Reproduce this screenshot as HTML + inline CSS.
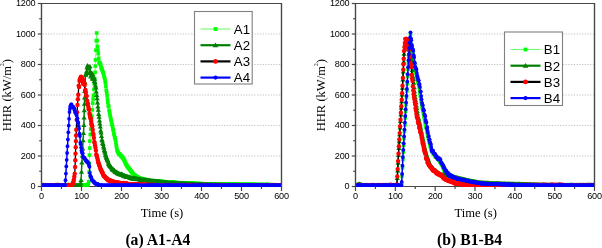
<!DOCTYPE html><html><head><meta charset="utf-8"><style>html,body{margin:0;padding:0;background:#fff;overflow:hidden;}svg{display:block;will-change:transform;}</style></head><body>
<svg width="602" height="248" viewBox="0 0 602 248">
<defs>
<marker id="msq" markerUnits="userSpaceOnUse" markerWidth="6" markerHeight="6" refX="3" refY="3" overflow="visible"><rect x="1.2" y="1.2" width="3.6" height="3.6" fill="#00ff00"/></marker>
<marker id="mtri" markerUnits="userSpaceOnUse" markerWidth="6" markerHeight="6" refX="3" refY="3" overflow="visible"><path d="M3,0.7 L5.6,5.1 L0.4,5.1 Z" fill="#008000"/></marker>
<marker id="mcr" markerUnits="userSpaceOnUse" markerWidth="6" markerHeight="6" refX="3" refY="3" overflow="visible"><circle cx="3" cy="3" r="2.2" fill="#ff0000"/></marker>
<marker id="mcb" markerUnits="userSpaceOnUse" markerWidth="6" markerHeight="6" refX="3" refY="3" overflow="visible"><circle cx="3" cy="3" r="1.9" fill="#0000ff"/></marker>
<marker id="lsq" markerUnits="userSpaceOnUse" markerWidth="6" markerHeight="6" refX="3" refY="3" overflow="visible"><rect x="1.1" y="1.1" width="3.8" height="3.8" fill="#00ff00"/></marker>
<marker id="ltri" markerUnits="userSpaceOnUse" markerWidth="6" markerHeight="6" refX="3" refY="3" overflow="visible"><path d="M3,0.2 L5.9,5.0 L0.1,5.0 Z" fill="#008000"/></marker>
<marker id="lcr" markerUnits="userSpaceOnUse" markerWidth="6" markerHeight="6" refX="3" refY="3" overflow="visible"><circle cx="3" cy="3" r="2.45" fill="#ff0000"/></marker>
<marker id="lcb" markerUnits="userSpaceOnUse" markerWidth="6" markerHeight="6" refX="3" refY="3" overflow="visible"><circle cx="3" cy="3" r="2.05" fill="#0000ff"/></marker>
</defs>
<rect width="602" height="248" fill="#fff"/>
<line x1="42.5" y1="156.00" x2="281.0" y2="156.00" stroke="#c8c8c8" stroke-width="1" stroke-dasharray="1.4 1.35"/>
<line x1="42.5" y1="125.50" x2="281.0" y2="125.50" stroke="#c8c8c8" stroke-width="1" stroke-dasharray="1.4 1.35"/>
<line x1="42.5" y1="95.00" x2="281.0" y2="95.00" stroke="#c8c8c8" stroke-width="1" stroke-dasharray="1.4 1.35"/>
<line x1="42.5" y1="64.50" x2="281.0" y2="64.50" stroke="#c8c8c8" stroke-width="1" stroke-dasharray="1.4 1.35"/>
<line x1="42.5" y1="34.00" x2="281.0" y2="34.00" stroke="#c8c8c8" stroke-width="1" stroke-dasharray="1.4 1.35"/>
<path d="M41.5,3.5 H281.5 M41.5,3.0 V187.0 M281.5,3.0 V186.5 M41.0,186.5 H282.0" stroke="#474747" stroke-width="1.2" fill="none"/>
<clipPath id="cp0"><rect x="40.9" y="0" width="241.2" height="187.0"/></clipPath><g clip-path="url(#cp0)">
<polyline points="42.3,185.1 42.7,184.6 43.1,184.9 43.5,184.8 43.9,184.9 44.3,184.9 44.7,184.7 45.1,184.9 45.5,184.8 45.9,185.2 46.3,184.9 46.7,184.9 47.1,184.9 47.5,184.8 47.9,184.8 48.3,184.9 48.7,184.9 49.1,184.9 49.5,185.0 49.9,184.9 50.3,184.9 50.7,185.1 51.1,185.0 51.5,184.8 51.9,184.9 52.3,185.0 52.7,185.1 53.1,184.9 53.5,184.9 53.9,185.0 54.3,184.8 54.7,184.9 55.1,185.0 55.5,185.0 55.9,184.9 56.3,185.0 56.7,184.6 57.1,185.0 57.5,184.8 57.9,184.7 58.3,184.9 58.7,185.0 59.1,184.9 59.5,184.8 59.9,184.9 60.3,184.9 60.7,185.0 61.1,185.0 61.5,184.9 61.9,185.0 62.3,184.9 62.7,184.8 63.1,185.0 63.5,185.0 63.9,184.9 64.3,184.8 64.7,184.9 65.1,184.7 65.5,185.0 65.9,184.9 66.3,184.7 66.7,184.9 67.1,184.8 67.5,185.0 67.9,184.7 68.3,184.8 68.7,185.0 69.1,185.0 69.5,184.7 69.9,184.9 70.3,184.9 70.7,184.8 71.1,185.1 71.5,184.8 71.9,184.9 72.3,184.8 72.7,185.0 73.1,184.9 73.5,184.9 73.9,184.7 74.3,185.1 74.7,185.0 75.1,185.0 75.5,185.0 75.9,184.9 76.3,184.8 76.7,184.8 77.1,184.8 77.5,185.0 77.9,184.8 78.3,184.8 78.7,184.9 79.1,184.9 79.5,185.0 79.9,184.8 80.3,184.7 80.7,184.9 81.1,185.0 81.5,185.0 81.9,184.9 82.3,184.9 82.7,184.9 83.1,184.9 83.5,185.0 83.9,184.8 84.3,184.9 84.7,184.9 85.1,185.0 85.5,184.9 85.9,185.2 86.3,185.0 86.7,185.0 87.1,184.7 87.5,184.9 87.9,184.8 88.3,184.0 88.7,181.8 89.1,172.1 89.3,163.6 89.5,155.1 89.7,148.1 89.9,141.1 90.3,134.5 90.7,129.0 91.1,124.0 91.5,120.1 91.9,116.2 92.3,109.8 92.7,103.1 93.1,99.0 93.5,95.2 93.9,89.4 94.3,83.9 94.7,78.6 95.1,72.3 95.3,66.1 95.5,59.9 95.9,50.2 96.3,40.7 96.7,33.0 97.1,40.6 97.5,46.4 97.9,50.2 98.3,53.7 98.7,58.3 99.1,62.5 99.5,62.3 99.9,63.2 100.3,63.8 100.7,64.9 101.1,67.4 101.5,68.7 101.9,69.0 102.3,70.3 102.7,71.4 103.1,72.8 103.5,72.9 103.9,75.3 104.3,77.3 104.7,78.4 105.1,80.7 105.5,83.0 105.9,86.5 106.3,90.3 106.7,92.5 107.1,95.7 107.5,99.3 107.9,102.3 108.3,106.0 108.7,106.1 109.1,110.1 109.5,111.7 109.9,114.0 110.3,116.3 110.7,118.4 111.1,120.3 111.5,121.8 111.9,124.4 112.3,125.4 112.7,127.4 113.1,129.6 113.5,130.8 113.9,133.7 114.3,135.0 114.7,137.2 115.1,138.2 115.5,139.9 115.9,142.7 116.3,145.6 116.7,147.8 117.1,150.3 117.5,151.0 117.9,152.3 118.3,152.4 118.7,153.7 119.1,153.9 119.5,154.1 119.9,154.5 120.3,154.7 120.7,155.5 121.1,156.1 121.5,156.2 121.9,156.7 122.3,157.3 122.7,157.5 123.1,158.3 123.5,158.9 123.9,159.3 124.3,160.8 124.7,160.9 125.1,162.4 125.5,163.0 125.9,164.1 126.3,164.6 126.7,165.2 127.1,166.2 127.5,166.5 127.9,167.1 128.3,167.7 128.7,168.2 129.1,168.7 129.5,169.1 129.9,169.8 130.3,169.8 130.7,170.8 131.1,171.0 131.5,172.2 131.9,172.7 132.3,172.3 132.7,173.4 133.1,173.8 133.5,174.1 133.9,175.0 134.3,175.1 134.7,175.0 135.1,175.6 135.5,175.9 135.9,176.2 136.3,176.1 136.7,176.8 137.1,177.0 137.5,176.8 137.9,177.2 138.3,177.6 138.7,177.7 139.1,178.4 139.5,178.2 139.9,178.0 140.3,178.2 140.7,178.5 141.1,179.1 141.5,178.7 141.9,178.8 142.3,179.0 142.7,179.0 143.1,179.6 143.5,179.1 143.9,179.5 144.3,179.5 144.7,179.7 145.1,179.4 145.5,180.2 145.9,179.9 146.3,180.0 146.7,179.9 147.1,180.1 147.5,180.5 147.9,180.7 148.3,180.7 148.7,180.8 149.1,180.7 149.5,180.6 149.9,180.8 150.3,180.8 150.7,180.7 151.1,180.9 151.5,181.0 151.9,180.9 152.3,180.8 152.7,181.0 153.1,181.3 153.5,180.9 153.9,181.0 154.3,181.0 154.7,181.3 155.1,180.8 155.5,181.2 155.9,181.4 156.3,181.1 156.7,181.5 157.1,181.4 157.5,181.3 157.9,181.4 158.3,181.2 158.7,181.4 159.1,181.8 159.5,181.4 159.9,181.8 160.3,181.6 160.7,181.8 161.1,181.7 161.5,181.4 161.9,181.6 162.3,181.8 162.7,181.6 163.1,181.7 163.5,181.9 163.9,181.8 164.3,181.7 164.7,181.9 165.1,182.1 165.5,182.0 165.9,182.2 166.3,182.3 166.7,182.1 167.1,182.0 167.5,182.0 167.9,182.2 168.3,182.3 168.7,182.3 169.1,182.3 169.5,182.2 169.9,182.3 170.3,182.3 170.7,182.3 171.1,182.3 171.5,182.3 171.9,182.4 172.3,182.4 172.7,182.4 173.1,182.6 173.5,182.5 173.9,182.9 174.3,182.7 174.7,182.6 175.1,182.7 175.5,182.7 175.9,182.6 176.3,182.8 176.7,182.7 177.1,182.5 177.5,182.9 177.9,182.8 178.3,183.0 178.7,182.8 179.1,182.8 179.5,183.1 179.9,182.9 180.3,183.0 180.7,183.2 181.1,183.1 181.5,183.1 181.9,183.1 182.3,183.2 182.7,183.1 183.1,183.2 183.5,183.3 183.9,183.5 184.3,183.2 184.7,183.2 185.1,183.4 185.5,183.3 185.9,183.4 186.3,183.4 186.7,183.5 187.1,183.3 187.5,183.4 187.9,183.1 188.3,183.3 188.7,183.6 189.1,183.3 189.5,183.4 189.9,183.3 190.3,183.5 190.7,183.5 191.1,183.4 191.5,183.6 191.9,183.5 192.3,183.6 192.7,183.5 193.1,183.7 193.5,183.6 193.9,183.5 194.3,183.5 194.7,183.6 195.1,183.7 195.5,183.6 195.9,183.7 196.3,183.7 196.7,183.8 197.1,183.7 197.5,183.7 197.9,183.5 198.3,183.7 198.7,183.8 199.1,183.7 199.5,183.8 199.9,183.7 200.3,183.7 200.7,183.7 201.1,183.9 201.5,183.8 201.9,183.7 202.3,183.7 202.7,183.8 203.1,184.0 203.5,183.9 203.9,183.8 204.3,184.0 204.7,184.0 205.1,184.0 205.5,184.0 205.9,184.0 206.3,184.0 206.7,184.0 207.1,183.9 207.5,184.1 207.9,184.0 208.3,184.2 208.7,183.8 209.1,184.1 209.5,184.1 209.9,184.0 210.3,184.1 210.7,184.1 211.1,184.1 211.5,184.0 211.9,184.1 212.3,184.2 212.7,184.2 213.1,184.1 213.5,184.1 213.9,184.1 214.3,184.2 214.7,184.0 215.1,184.0 215.5,184.2 215.9,184.1 216.3,184.1 216.7,184.2 217.1,184.3 217.5,184.1 217.9,184.3 218.3,184.1 218.7,184.3 219.1,184.1 219.5,184.2 219.9,184.4 220.3,184.3 220.7,184.2 221.1,184.3 221.5,184.4 221.9,184.3 222.3,184.3 222.7,184.4 223.1,184.3 223.5,184.3 223.9,184.3 224.3,184.5 224.7,184.4 225.1,184.5 225.5,184.4 225.9,184.3 226.3,184.4 226.7,184.3 227.1,184.5 227.5,184.4 227.9,184.3 228.3,184.4 228.7,184.4 229.1,184.6 229.5,184.7 229.9,184.4 230.3,184.4 230.7,184.2 231.1,184.4 231.5,184.4 231.9,184.3 232.3,184.5 232.7,184.3 233.1,184.4 233.5,184.4 233.9,184.3 234.3,184.5 234.7,184.5 235.1,184.3 235.5,184.3 235.9,184.5 236.3,184.5 236.7,184.3 237.1,184.4 237.5,184.5 237.9,184.5 238.3,184.6 238.7,184.5 239.1,184.7 239.5,184.6 239.9,184.6 240.3,184.6 240.7,184.6 241.1,184.6 241.5,184.4 241.9,184.6 242.3,184.5 242.7,184.7 243.1,184.5 243.5,184.6 243.9,184.6 244.3,184.7 244.7,184.6 245.1,184.5 245.5,184.6 245.9,184.5 246.3,184.6 246.7,184.6 247.1,184.6 247.5,184.8 247.9,184.5 248.3,184.6 248.7,184.6 249.1,184.7 249.5,184.5 249.9,184.5 250.3,184.6 250.7,184.7 251.1,184.6 251.5,184.6 251.9,184.5 252.3,184.7 252.7,184.8 253.1,184.7 253.5,184.6 253.9,184.7 254.3,184.5 254.7,184.6 255.1,184.6 255.5,184.7 255.9,184.6 256.3,184.5 256.7,184.8 257.1,184.8 257.5,184.6 257.9,184.7 258.3,184.7 258.7,184.8 259.1,184.5 259.5,184.8 259.9,184.6 260.3,184.8 260.7,184.7 261.1,184.7 261.5,184.7 261.9,184.8 262.3,184.6 262.7,184.7 263.1,184.7 263.5,184.6 263.9,184.9 264.3,184.8 264.7,184.7 265.1,184.9 265.5,184.6 265.9,184.7 266.3,184.9 266.7,184.9 267.1,184.5 267.5,184.4 267.9,184.7 268.3,184.9 268.7,184.7 269.1,184.8 269.5,184.8 269.9,184.7 270.3,184.8 270.7,184.9 271.1,184.8 271.5,184.8 271.9,184.7 272.3,184.9 272.7,184.8 273.1,184.9 273.5,185.1 273.9,184.8 274.3,184.6 274.7,184.8 275.1,184.9 275.5,184.9 275.9,185.0 276.3,184.8 276.7,184.8 277.1,185.0 277.5,184.8 277.9,185.0 278.3,184.8 278.7,184.9 279.1,184.9 279.5,185.0 279.9,185.0 280.3,184.8 280.7,184.9" fill="none" stroke="#70ff70" stroke-width="1.0" stroke-linejoin="round" marker-start="url(#msq)" marker-mid="url(#msq)" marker-end="url(#msq)"/>
<polyline points="42.3,185.5 42.7,185.5 43.1,185.6 43.5,185.5 43.9,185.4 44.3,185.4 44.7,185.5 45.1,185.6 45.5,185.4 45.9,185.6 46.3,185.5 46.7,185.5 47.1,185.3 47.5,185.5 47.9,185.6 48.3,185.3 48.7,185.6 49.1,185.6 49.5,185.5 49.9,185.6 50.3,185.6 50.7,185.6 51.1,185.4 51.5,185.5 51.9,185.5 52.3,185.5 52.7,185.2 53.1,185.6 53.5,185.4 53.9,185.5 54.3,185.5 54.7,185.6 55.1,185.5 55.5,185.4 55.9,185.6 56.3,185.6 56.7,185.5 57.1,185.6 57.5,185.5 57.9,185.4 58.3,185.6 58.7,185.4 59.1,185.6 59.5,185.4 59.9,185.6 60.3,185.3 60.7,185.4 61.1,185.6 61.5,185.5 61.9,185.5 62.3,185.4 62.7,185.6 63.1,185.3 63.5,185.3 63.9,185.5 64.3,185.4 64.7,185.4 65.1,185.5 65.5,185.5 65.9,185.5 66.3,185.6 66.7,185.6 67.1,185.6 67.5,185.5 67.9,185.4 68.3,185.3 68.7,185.4 69.1,185.2 69.5,185.4 69.9,185.6 70.3,185.6 70.7,185.6 71.1,185.4 71.5,185.6 71.9,185.4 72.3,185.6 72.7,185.5 73.1,185.6 73.5,185.6 73.9,185.6 74.3,185.6 74.7,185.5 75.1,185.4 75.5,185.6 75.9,185.6 76.3,185.4 76.7,185.5 77.1,185.2 77.5,185.5 77.9,185.6 78.3,185.5 78.7,185.4 79.1,185.2 79.5,185.6 79.9,185.2 80.3,184.4 80.7,182.7 81.1,179.8 81.5,171.7 81.9,162.4 82.3,155.3 82.7,148.3 83.1,140.2 83.5,133.0 83.9,125.0 84.1,117.5 84.3,110.1 84.4,103.7 84.6,97.3 84.7,90.9 85.1,82.5 85.5,74.6 85.9,74.5 86.3,72.9 86.7,71.0 87.1,67.3 87.5,65.4 87.9,66.1 88.3,67.4 88.7,68.5 89.1,66.9 89.5,73.2 89.9,66.2 90.3,71.3 90.7,76.4 91.1,73.0 91.5,74.4 91.9,72.8 92.3,78.3 92.7,74.4 93.1,78.1 93.5,78.7 93.9,77.4 94.3,81.0 94.7,79.1 95.1,82.4 95.5,85.4 95.9,87.4 96.3,91.5 96.7,95.0 97.1,98.1 97.5,102.4 97.9,106.3 98.3,109.7 98.7,113.9 99.1,116.6 99.5,120.4 99.9,123.5 100.3,126.5 100.7,130.4 101.1,132.3 101.5,135.8 101.9,139.4 102.3,140.3 102.7,142.9 103.1,143.9 103.5,146.2 103.9,147.6 104.3,149.9 104.7,151.1 105.1,152.7 105.5,154.6 105.9,155.4 106.3,156.9 106.7,158.0 107.1,159.2 107.5,160.0 107.9,160.6 108.3,162.3 108.7,163.8 109.1,164.3 109.5,164.6 109.9,165.9 110.3,165.8 110.7,166.3 111.1,166.8 111.5,167.4 111.9,168.3 112.3,169.4 112.7,169.0 113.1,169.1 113.5,169.6 113.9,170.1 114.3,170.0 114.7,170.9 115.1,171.4 115.5,171.7 115.9,172.1 116.3,171.8 116.7,171.8 117.1,172.9 117.5,173.1 117.9,172.5 118.3,173.2 118.7,173.4 119.1,173.7 119.5,173.8 119.9,173.8 120.3,174.2 120.7,174.3 121.1,174.4 121.5,174.0 121.9,173.8 122.3,174.6 122.7,174.5 123.1,175.2 123.5,175.4 123.9,175.4 124.3,175.4 124.7,175.7 125.1,176.1 125.5,175.7 125.9,176.3 126.3,176.4 126.7,176.4 127.1,176.8 127.5,176.4 127.9,177.0 128.3,176.7 128.7,176.9 129.1,176.9 129.5,177.4 129.9,177.2 130.3,177.6 130.7,177.4 131.1,177.9 131.5,178.2 131.9,177.9 132.3,178.3 132.7,178.1 133.1,178.5 133.5,178.2 133.9,177.9 134.3,178.6 134.7,178.3 135.1,178.2 135.5,178.4 135.9,178.2 136.3,178.6 136.7,178.5 137.1,179.1 137.5,179.0 137.9,178.6 138.3,178.7 138.7,179.0 139.1,178.8 139.5,179.2 139.9,179.3 140.3,179.2 140.7,179.3 141.1,179.5 141.5,179.7 141.9,179.8 142.3,179.6 142.7,179.8 143.1,179.5 143.5,179.8 143.9,179.6 144.3,179.9 144.7,179.7 145.1,179.8 145.5,180.0 145.9,180.1 146.3,179.8 146.7,180.0 147.1,180.2 147.5,180.2 147.9,180.1 148.3,180.3 148.7,180.3 149.1,180.6 149.5,180.5 149.9,180.3 150.3,180.2 150.7,180.6 151.1,180.8 151.5,180.7 151.9,180.8 152.3,180.7 152.7,180.6 153.1,181.0 153.5,180.9 153.9,181.0 154.3,180.8 154.7,181.1 155.1,181.0 155.5,181.2 155.9,181.1 156.3,181.2 156.7,181.2 157.1,181.5 157.5,181.4 157.9,181.3 158.3,181.3 158.7,181.4 159.1,181.7 159.5,181.4 159.9,181.6 160.3,181.7 160.7,181.8 161.1,181.8 161.5,181.9 161.9,181.9 162.3,182.0 162.7,182.0 163.1,182.2 163.5,182.1 163.9,182.3 164.3,182.0 164.7,182.3 165.1,182.1 165.5,182.1 165.9,182.4 166.3,182.3 166.7,182.5 167.1,182.4 167.5,182.7 167.9,182.6 168.3,182.5 168.7,182.7 169.1,182.8 169.5,182.7 169.9,182.8 170.3,183.0 170.7,182.9 171.1,182.9 171.5,182.8 171.9,183.0 172.3,182.8 172.7,182.6 173.1,182.9 173.5,182.9 173.9,183.2 174.3,183.0 174.7,182.9 175.1,182.9 175.5,183.1 175.9,183.0 176.3,183.1 176.7,183.1 177.1,183.2 177.5,183.2 177.9,183.2 178.3,183.4 178.7,183.4 179.1,183.1 179.5,183.5 179.9,183.3 180.3,183.4 180.7,183.3 181.1,183.4 181.5,183.4 181.9,183.4 182.3,183.5 182.7,183.5 183.1,183.4 183.5,183.5 183.9,183.6 184.3,183.6 184.7,183.5 185.1,183.5 185.5,183.6 185.9,183.5 186.3,183.5 186.7,183.8 187.1,183.6 187.5,183.7 187.9,183.6 188.3,183.9 188.7,183.9 189.1,183.7 189.5,183.8 189.9,183.7 190.3,184.0 190.7,183.9 191.1,183.8 191.5,184.0 191.9,183.9 192.3,184.0 192.7,184.0 193.1,183.9 193.5,183.9 193.9,184.1 194.3,184.0 194.7,183.9 195.1,184.3 195.5,184.1 195.9,184.0 196.3,184.1 196.7,184.2 197.1,184.3 197.5,184.2 197.9,184.3 198.3,184.1 198.7,184.2 199.1,184.2 199.5,184.3 199.9,184.4 200.3,184.1 200.7,184.6 201.1,184.2 201.5,184.4 201.9,184.4 202.3,184.4 202.7,184.4 203.1,184.1 203.5,184.3 203.9,184.5 204.3,184.3 204.7,184.3 205.1,184.2 205.5,184.6 205.9,184.5 206.3,184.4 206.7,184.5 207.1,184.5 207.5,184.4 207.9,184.5 208.3,184.5 208.7,184.6 209.1,184.6 209.5,184.5 209.9,184.5 210.3,184.6 210.7,184.5 211.1,184.4 211.5,184.7 211.9,184.5 212.3,184.6 212.7,184.7 213.1,184.5 213.5,184.7 213.9,184.7 214.3,184.6 214.7,184.7 215.1,184.6 215.5,184.5 215.9,184.7 216.3,184.6 216.7,184.8 217.1,184.7 217.5,184.7 217.9,184.7 218.3,184.9 218.7,184.9 219.1,184.8 219.5,184.8 219.9,184.8 220.3,184.8 220.7,184.9 221.1,184.8 221.5,184.8 221.9,184.7 222.3,184.7 222.7,184.7 223.1,184.8 223.5,185.0 223.9,185.0 224.3,184.8 224.7,184.7 225.1,185.0 225.5,185.0 225.9,184.8 226.3,185.0 226.7,185.0 227.1,185.1 227.5,185.0 227.9,185.1 228.3,185.0 228.7,184.9 229.1,185.0 229.5,184.9 229.9,185.1 230.3,184.9 230.7,184.9 231.1,185.1 231.5,185.2 231.9,185.2 232.3,185.2 232.7,184.9 233.1,185.0 233.5,185.1 233.9,185.1 234.3,184.9 234.7,185.1 235.1,185.2 235.5,185.1 235.9,185.2 236.3,185.3 236.7,185.2 237.1,185.3 237.5,185.3 237.9,185.3 238.3,185.3 238.7,185.2 239.1,185.4 239.5,185.2 239.9,185.2 240.3,185.3 240.7,185.2 241.1,185.3 241.5,185.4 241.9,185.3 242.3,185.3 242.7,185.4 243.1,185.4 243.5,185.2 243.9,185.2 244.3,185.5 244.7,185.4 245.1,185.2 245.5,185.3 245.9,185.4 246.3,185.3 246.7,185.5 247.1,185.4 247.5,185.5 247.9,185.3 248.3,185.5 248.7,185.6 249.1,185.4 249.5,185.6 249.9,185.6 250.3,185.6 250.7,185.5 251.1,185.4 251.5,185.4 251.9,185.6 252.3,185.6 252.7,185.6 253.1,185.6 253.5,185.6 253.9,185.5 254.3,185.4 254.7,185.5 255.1,185.6 255.5,185.5 255.9,185.4 256.3,185.5 256.7,185.4 257.1,185.5 257.5,185.4 257.9,185.5 258.3,185.5 258.7,185.5 259.1,185.6 259.5,185.4 259.9,185.3 260.3,185.6 260.7,185.6 261.1,185.6 261.5,185.5 261.9,185.6 262.3,185.5 262.7,185.4 263.1,185.4 263.5,185.6 263.9,185.4 264.3,185.6 264.7,185.3 265.1,185.5 265.5,185.6 265.9,185.4 266.3,185.4 266.7,185.4 267.1,185.4 267.5,185.6 267.9,185.5 268.3,185.6 268.7,185.5 269.1,185.6 269.5,185.5 269.9,185.4 270.3,185.5 270.7,185.5 271.1,185.6 271.5,185.5 271.9,185.6 272.3,185.6 272.7,185.4 273.1,185.4 273.5,185.6 273.9,185.5 274.3,185.5 274.7,185.5 275.1,185.5 275.5,185.6 275.9,185.5 276.3,185.6 276.7,185.4 277.1,185.4 277.5,185.5 277.9,185.5 278.3,185.6 278.7,185.5 279.1,185.4 279.5,185.5 279.9,185.5 280.3,185.3 280.7,185.4" fill="none" stroke="#008000" stroke-width="1.5" stroke-linejoin="round" marker-start="url(#mtri)" marker-mid="url(#mtri)" marker-end="url(#mtri)"/>
<polyline points="42.3,185.2 42.7,185.3 43.1,185.3 43.5,185.4 43.9,185.4 44.3,185.5 44.7,185.4 45.1,185.3 45.5,185.5 45.9,185.4 46.3,185.3 46.7,185.3 47.1,185.4 47.5,185.3 47.9,185.4 48.3,185.4 48.7,185.4 49.1,185.3 49.5,185.4 49.9,185.3 50.3,185.4 50.7,185.1 51.1,185.3 51.5,185.5 51.9,185.4 52.3,185.3 52.7,185.4 53.1,185.2 53.5,185.2 53.9,185.3 54.3,185.3 54.7,185.4 55.1,185.2 55.5,185.4 55.9,185.1 56.3,185.2 56.7,185.3 57.1,185.5 57.5,185.2 57.9,185.0 58.3,185.4 58.7,185.3 59.1,185.1 59.5,185.2 59.9,185.2 60.3,185.3 60.7,185.4 61.1,185.1 61.5,185.6 61.9,185.3 62.3,185.2 62.7,185.4 63.1,185.3 63.5,185.6 63.9,185.5 64.3,185.2 64.7,185.2 65.1,185.2 65.5,185.3 65.9,185.4 66.3,185.2 66.7,185.6 67.1,185.3 67.5,185.3 67.9,185.5 68.3,185.0 68.7,185.1 69.1,185.4 69.5,185.3 69.9,185.3 70.3,185.4 70.7,185.2 71.1,185.3 71.5,185.1 71.9,184.8 72.3,184.7 72.7,183.6 73.1,182.7 73.5,181.4 73.9,179.6 74.3,176.7 74.7,173.7 75.1,167.0 75.3,160.3 75.5,153.6 75.7,147.3 75.9,141.1 76.1,135.5 76.3,129.8 76.7,120.0 77.1,112.2 77.5,104.9 77.9,99.3 78.3,94.7 78.7,85.6 79.1,87.0 79.5,81.0 79.9,79.2 80.3,80.1 80.7,77.2 81.1,76.6 81.5,78.7 81.9,77.7 82.3,78.1 82.7,81.0 83.1,83.8 83.5,83.3 83.9,80.1 84.3,82.8 84.7,85.0 85.1,90.5 85.5,89.9 85.9,92.6 86.3,96.0 86.7,96.1 87.1,100.7 87.5,103.8 87.9,103.5 88.3,106.8 88.7,109.3 89.1,109.4 89.5,113.5 89.9,115.5 90.3,117.8 90.7,118.4 91.1,120.9 91.5,123.8 91.9,125.1 92.3,126.5 92.7,129.8 93.1,133.3 93.5,135.0 93.9,137.9 94.3,142.0 94.7,143.0 95.1,145.6 95.5,147.8 95.9,150.6 96.3,154.5 96.7,155.7 97.1,156.8 97.5,158.6 97.9,160.6 98.3,162.6 98.7,163.2 99.1,165.0 99.5,165.6 99.9,167.1 100.3,168.3 100.7,169.4 101.1,170.0 101.5,170.9 101.9,172.0 102.3,172.1 102.7,173.5 103.1,174.4 103.5,175.4 103.9,175.8 104.3,176.2 104.7,176.8 105.1,176.8 105.5,177.4 105.9,178.0 106.3,178.4 106.7,178.4 107.1,179.0 107.5,178.8 107.9,180.2 108.3,179.9 108.7,180.3 109.1,180.0 109.5,180.5 109.9,180.8 110.3,181.0 110.7,180.5 111.1,181.3 111.5,181.1 111.9,181.1 112.3,181.5 112.7,181.5 113.1,181.6 113.5,181.6 113.9,182.0 114.3,182.1 114.7,182.2 115.1,182.1 115.5,182.2 115.9,182.5 116.3,182.8 116.7,182.5 117.1,182.9 117.5,182.6 117.9,182.4 118.3,182.9 118.7,182.6 119.1,182.9 119.5,183.1 119.9,182.9 120.3,183.0 120.7,183.5 121.1,183.2 121.5,183.2 121.9,183.4 122.3,183.3 122.7,183.3 123.1,183.4 123.5,183.0 123.9,183.7 124.3,183.4 124.7,183.4 125.1,183.7 125.5,183.7 125.9,183.6 126.3,183.8 126.7,183.7 127.1,183.8 127.5,183.8 127.9,183.9 128.3,184.1 128.7,184.1 129.1,184.2 129.5,184.3 129.9,184.3 130.3,184.2 130.7,184.3 131.1,184.5 131.5,184.4 131.9,184.4 132.3,184.4 132.7,184.4 133.1,184.4 133.5,184.4 133.9,184.4 134.3,184.4 134.7,184.4 135.1,184.5 135.5,184.6 135.9,184.6 136.3,184.5 136.7,184.4 137.1,184.6 137.5,184.6 137.9,184.4 138.3,184.7 138.7,184.6 139.1,184.8 139.5,184.5 139.9,184.5 140.3,184.7 140.7,184.5 141.1,184.6 141.5,184.6 141.9,184.6 142.3,184.5 142.7,184.7 143.1,184.8 143.5,184.8 143.9,184.8 144.3,184.7 144.7,184.9 145.1,184.9 145.5,184.9 145.9,184.7 146.3,184.9 146.7,184.7 147.1,184.9 147.5,184.9 147.9,184.8 148.3,184.9 148.7,185.0 149.1,185.0 149.5,185.0 149.9,184.9 150.3,184.9 150.7,184.9 151.1,185.0 151.5,185.1 151.9,185.1 152.3,185.0 152.7,184.9 153.1,185.1 153.5,185.1 153.9,184.9 154.3,184.9 154.7,185.1 155.1,185.0 155.5,185.3 155.9,185.2 156.3,185.1 156.7,185.1 157.1,185.4 157.5,185.1 157.9,185.3 158.3,185.3 158.7,185.4 159.1,185.3 159.5,185.2 159.9,185.3 160.3,185.3 160.7,185.4 161.1,185.3 161.5,185.5 161.9,185.3 162.3,185.3 162.7,185.2 163.1,185.3 163.5,185.3 163.9,185.3 164.3,185.4 164.7,185.2 165.1,185.2 165.5,185.4 165.9,185.3 166.3,185.2 166.7,185.4 167.1,185.4 167.5,185.0 167.9,185.3 168.3,185.4 168.7,185.4 169.1,185.3 169.5,185.5 169.9,185.2 170.3,185.3 170.7,185.3 171.1,185.3 171.5,185.4 171.9,185.4 172.3,185.3 172.7,185.4 173.1,185.2 173.5,185.3 173.9,185.5 174.3,185.3 174.7,185.4 175.1,185.3 175.5,185.3 175.9,185.3 176.3,185.3 176.7,185.3 177.1,185.3 177.5,185.4 177.9,185.4 178.3,185.3 178.7,185.4 179.1,185.4 179.5,185.2 179.9,185.1 180.3,185.5 180.7,185.4 181.1,185.3 181.5,185.3 181.9,185.2 182.3,185.2 182.7,185.3 183.1,185.2 183.5,185.4 183.9,185.2 184.3,185.3 184.7,185.5 185.1,185.5 185.5,185.3 185.9,185.4 186.3,185.2 186.7,185.2 187.1,185.3 187.5,185.4 187.9,185.2 188.3,185.4 188.7,185.3 189.1,185.2 189.5,185.3 189.9,185.5 190.3,185.3 190.7,185.4 191.1,185.4 191.5,185.2 191.9,185.4 192.3,185.5 192.7,185.5 193.1,185.4 193.5,185.3 193.9,185.2 194.3,185.2 194.7,185.2 195.1,185.2 195.5,185.4 195.9,185.4 196.3,185.2 196.7,185.4 197.1,185.2 197.5,185.3 197.9,185.2 198.3,185.1 198.7,185.3 199.1,185.3 199.5,185.3 199.9,185.2 200.3,185.2 200.7,185.3 201.1,185.2 201.5,185.3 201.9,185.2 202.3,185.3 202.7,185.4 203.1,185.4 203.5,185.4 203.9,185.3 204.3,185.2 204.7,185.1 205.1,185.3 205.5,185.4 205.9,185.5 206.3,185.0 206.7,185.2 207.1,185.3 207.5,185.2 207.9,185.3 208.3,185.3 208.7,185.2 209.1,185.3 209.5,185.1 209.9,185.2 210.3,185.2 210.7,185.4 211.1,185.1 211.5,185.3 211.9,185.4 212.3,185.3 212.7,185.4 213.1,185.2 213.5,185.3 213.9,185.4 214.3,185.5 214.7,185.4 215.1,185.4 215.5,185.3 215.9,185.3 216.3,185.5 216.7,185.4 217.1,185.4 217.5,185.4 217.9,185.5 218.3,185.5 218.7,185.2 219.1,185.5 219.5,185.3 219.9,185.3 220.3,185.3 220.7,185.4 221.1,185.2 221.5,185.2 221.9,185.2 222.3,185.3 222.7,185.4 223.1,185.4 223.5,185.3 223.9,185.2 224.3,185.1 224.7,185.3 225.1,185.3 225.5,185.3 225.9,185.4 226.3,185.3 226.7,185.3 227.1,185.1 227.5,185.4 227.9,185.3 228.3,185.2 228.7,185.3 229.1,185.2 229.5,185.2 229.9,185.5 230.3,185.4 230.7,185.4 231.1,185.4 231.5,185.4 231.9,185.3 232.3,185.5 232.7,185.3 233.1,185.4 233.5,185.3 233.9,185.3 234.3,185.1 234.7,185.1 235.1,185.5 235.5,185.5 235.9,185.3 236.3,185.3 236.7,185.4 237.1,185.2 237.5,185.5 237.9,185.2 238.3,185.2 238.7,185.0 239.1,185.5 239.5,185.3 239.9,185.5 240.3,185.2 240.7,185.3 241.1,185.3 241.5,185.3 241.9,185.5 242.3,185.5 242.7,185.4 243.1,185.3 243.5,185.4 243.9,185.4 244.3,185.4 244.7,185.4 245.1,185.3 245.5,185.2 245.9,185.3 246.3,185.5 246.7,185.2 247.1,185.3 247.5,185.4 247.9,185.2 248.3,185.3 248.7,185.1 249.1,185.2 249.5,185.2 249.9,185.2 250.3,185.3 250.7,185.3 251.1,185.3 251.5,185.1 251.9,185.5 252.3,185.3 252.7,185.2 253.1,185.2 253.5,185.3 253.9,185.2 254.3,185.3 254.7,185.3 255.1,185.4 255.5,185.2 255.9,185.3 256.3,185.3 256.7,185.3 257.1,185.4 257.5,185.3 257.9,185.2 258.3,185.3 258.7,185.3 259.1,185.3 259.5,185.3 259.9,185.5 260.3,185.3 260.7,185.3 261.1,185.3 261.5,185.4 261.9,185.3 262.3,185.2 262.7,185.2 263.1,185.4 263.5,185.4 263.9,185.1 264.3,185.2 264.7,185.4 265.1,185.4 265.5,185.2 265.9,185.3 266.3,185.4 266.7,185.2 267.1,185.3 267.5,185.2 267.9,185.2 268.3,185.3 268.7,185.3 269.1,185.2 269.5,185.3 269.9,185.4 270.3,185.3 270.7,185.4 271.1,185.2 271.5,185.4 271.9,185.2 272.3,185.5 272.7,185.3 273.1,185.2 273.5,185.2 273.9,185.3 274.3,185.3 274.7,185.2 275.1,185.3 275.5,185.4 275.9,185.4 276.3,185.3 276.7,185.4 277.1,185.2 277.5,185.2 277.9,185.2 278.3,185.4 278.7,185.1 279.1,185.2 279.5,185.4 279.9,185.5 280.3,185.4 280.7,185.2" fill="none" stroke="#000000" stroke-width="1.3" stroke-linejoin="round" marker-start="url(#mcr)" marker-mid="url(#mcr)" marker-end="url(#mcr)"/>
<polyline points="42.3,185.5 42.7,185.6 43.1,185.5 43.5,185.3 43.9,185.5 44.3,185.3 44.7,185.4 45.1,185.6 45.5,185.6 45.9,185.4 46.3,185.3 46.7,185.5 47.1,185.4 47.5,185.6 47.9,185.4 48.3,185.5 48.7,185.5 49.1,185.4 49.5,185.3 49.9,185.4 50.3,185.4 50.7,185.5 51.1,185.5 51.5,185.5 51.9,185.6 52.3,185.4 52.7,185.6 53.1,185.6 53.5,185.5 53.9,185.5 54.3,185.6 54.7,185.6 55.1,185.5 55.5,185.5 55.9,185.4 56.3,185.4 56.7,185.6 57.1,185.6 57.5,185.4 57.9,185.5 58.3,185.5 58.7,185.5 59.1,185.4 59.5,185.5 59.9,185.3 60.3,185.5 60.7,185.5 61.1,185.6 61.5,185.6 61.9,185.5 62.3,185.5 62.7,185.6 63.1,185.6 63.5,185.5 63.9,185.5 64.3,185.4 64.7,185.5 65.1,184.6 65.5,180.2 65.9,173.6 66.3,166.4 66.7,159.8 67.1,153.0 67.5,146.2 67.9,139.5 68.3,132.3 68.7,125.6 69.1,118.8 69.5,112.0 69.9,108.9 70.3,106.2 70.7,106.2 71.1,104.4 71.5,104.5 71.9,106.2 72.3,106.9 72.7,107.0 73.1,106.6 73.5,107.4 73.9,108.2 74.3,108.8 74.7,110.2 75.1,112.3 75.5,112.5 75.9,112.7 76.3,114.3 76.7,115.8 77.1,119.3 77.5,118.5 77.9,121.8 78.3,123.0 78.7,126.1 79.1,128.6 79.5,133.7 79.9,136.1 80.3,142.7 80.7,144.2 81.1,147.6 81.5,150.4 81.9,152.0 82.3,153.0 82.7,153.4 83.1,157.1 83.5,157.1 83.9,157.6 84.3,157.6 84.7,158.9 85.1,158.8 85.5,159.8 85.9,160.2 86.3,161.5 86.7,160.9 87.1,161.4 87.5,162.5 87.9,162.5 88.3,162.8 88.7,163.7 89.1,165.8 89.5,166.7 89.9,172.8 90.3,175.7 90.7,176.4 91.1,177.3 91.5,178.4 91.9,180.2 92.3,180.3 92.7,180.6 93.1,181.2 93.5,181.4 93.9,182.3 94.3,182.0 94.7,183.1 95.1,182.9 95.5,183.4 95.9,183.9 96.3,184.0 96.7,184.2 97.1,184.1 97.5,184.0 97.9,184.6 98.3,184.5 98.7,184.9 99.1,185.2 99.5,185.3 99.9,185.4 100.3,185.4 100.7,185.5 101.1,185.5 101.5,185.3 101.9,185.5 102.3,185.4 102.7,185.5 103.1,185.4 103.5,185.6 103.9,185.6 104.3,185.5 104.7,185.5 105.1,185.5 105.5,185.6 105.9,185.6 106.3,185.5 106.7,185.5 107.1,185.6 107.5,185.3 107.9,185.5 108.3,185.4 108.7,185.6 109.1,185.4 109.5,185.5 109.9,185.4 110.3,185.5 110.7,185.6 111.1,185.6 111.5,185.4 111.9,185.5 112.3,185.6 112.7,185.6 113.1,185.5 113.5,185.6 113.9,185.2 114.3,185.6 114.7,185.5 115.1,185.4 115.5,185.6 115.9,185.4 116.3,185.4 116.7,185.6 117.1,185.5 117.5,185.5 117.9,185.5 118.3,185.4 118.7,185.4 119.1,185.6 119.5,185.6 119.9,185.5 120.3,185.5 120.7,185.5 121.1,185.5 121.5,185.4 121.9,185.6 122.3,185.4 122.7,185.5 123.1,185.5 123.5,185.4 123.9,185.6 124.3,185.5 124.7,185.4 125.1,185.5 125.5,185.4 125.9,185.5 126.3,185.4 126.7,185.6 127.1,185.5 127.5,185.4 127.9,185.6 128.3,185.5 128.7,185.4 129.1,185.5 129.5,185.5 129.9,185.6 130.3,185.4 130.7,185.6 131.1,185.5 131.5,185.6 131.9,185.5 132.3,185.5 132.7,185.6 133.1,185.4 133.5,185.3 133.9,185.5 134.3,185.5 134.7,185.5 135.1,185.6 135.5,185.5 135.9,185.6 136.3,185.5 136.7,185.5 137.1,185.6 137.5,185.6 137.9,185.5 138.3,185.5 138.7,185.4 139.1,185.4 139.5,185.5 139.9,185.6 140.3,185.5 140.7,185.6 141.1,185.6 141.5,185.6 141.9,185.5 142.3,185.6 142.7,185.6 143.1,185.6 143.5,185.6 143.9,185.6 144.3,185.6 144.7,185.5 145.1,185.5 145.5,185.5 145.9,185.6 146.3,185.6 146.7,185.5 147.1,185.6 147.5,185.6 147.9,185.4 148.3,185.5 148.7,185.6 149.1,185.5 149.5,185.4 149.9,185.6 150.3,185.5 150.7,185.4 151.1,185.6 151.5,185.4 151.9,185.5 152.3,185.4 152.7,185.5 153.1,185.6 153.5,185.4 153.9,185.5 154.3,185.5 154.7,185.4 155.1,185.6 155.5,185.5 155.9,185.5 156.3,185.4 156.7,185.5 157.1,185.5 157.5,185.5 157.9,185.6 158.3,185.2 158.7,185.3 159.1,185.5 159.5,185.3 159.9,185.5 160.3,185.4 160.7,185.6 161.1,185.5 161.5,185.6 161.9,185.6 162.3,185.6 162.7,185.6 163.1,185.6 163.5,185.6 163.9,185.4 164.3,185.4 164.7,185.4 165.1,185.6 165.5,185.3 165.9,185.5 166.3,185.4 166.7,185.6 167.1,185.5 167.5,185.4 167.9,185.5 168.3,185.3 168.7,185.5 169.1,185.6 169.5,185.3 169.9,185.6 170.3,185.5 170.7,185.5 171.1,185.4 171.5,185.6 171.9,185.6 172.3,185.5 172.7,185.4 173.1,185.6 173.5,185.6 173.9,185.5 174.3,185.6 174.7,185.4 175.1,185.5 175.5,185.5 175.9,185.5 176.3,185.6 176.7,185.5 177.1,185.5 177.5,185.6 177.9,185.4 178.3,185.5 178.7,185.6 179.1,185.5 179.5,185.5 179.9,185.4 180.3,185.5 180.7,185.4 181.1,185.6 181.5,185.6 181.9,185.5 182.3,185.4 182.7,185.6 183.1,185.6 183.5,185.6 183.9,185.5 184.3,185.5 184.7,185.5 185.1,185.6 185.5,185.5 185.9,185.4 186.3,185.4 186.7,185.3 187.1,185.6 187.5,185.6 187.9,185.6 188.3,185.6 188.7,185.4 189.1,185.6 189.5,185.6 189.9,185.6 190.3,185.5 190.7,185.6 191.1,185.6 191.5,185.6 191.9,185.5 192.3,185.5 192.7,185.5 193.1,185.5 193.5,185.4 193.9,185.5 194.3,185.6 194.7,185.6 195.1,185.6 195.5,185.6 195.9,185.6 196.3,185.4 196.7,185.6 197.1,185.6 197.5,185.4 197.9,185.4 198.3,185.4 198.7,185.4 199.1,185.5 199.5,185.4 199.9,185.5 200.3,185.4 200.7,185.5 201.1,185.5 201.5,185.4 201.9,185.6 202.3,185.5 202.7,185.6 203.1,185.5 203.5,185.6 203.9,185.6 204.3,185.5 204.7,185.3 205.1,185.6 205.5,185.6 205.9,185.5 206.3,185.5 206.7,185.5 207.1,185.5 207.5,185.4 207.9,185.5 208.3,185.5 208.7,185.4 209.1,185.4 209.5,185.6 209.9,185.6 210.3,185.5 210.7,185.5 211.1,185.2 211.5,185.4 211.9,185.5 212.3,185.6 212.7,185.3 213.1,185.4 213.5,185.6 213.9,185.6 214.3,185.5 214.7,185.6 215.1,185.5 215.5,185.5 215.9,185.6 216.3,185.6 216.7,185.4 217.1,185.6 217.5,185.3 217.9,185.4 218.3,185.6 218.7,185.5 219.1,185.6 219.5,185.4 219.9,185.5 220.3,185.4 220.7,185.5 221.1,185.6 221.5,185.6 221.9,185.6 222.3,185.6 222.7,185.5 223.1,185.6 223.5,185.6 223.9,185.6 224.3,185.5 224.7,185.5 225.1,185.6 225.5,185.6 225.9,185.5 226.3,185.4 226.7,185.5 227.1,185.6 227.5,185.6 227.9,185.4 228.3,185.5 228.7,185.5 229.1,185.4 229.5,185.6 229.9,185.5 230.3,185.5 230.7,185.3 231.1,185.3 231.5,185.4 231.9,185.4 232.3,185.4 232.7,185.5 233.1,185.5 233.5,185.5 233.9,185.3 234.3,185.6 234.7,185.5 235.1,185.6 235.5,185.4 235.9,185.5 236.3,185.6 236.7,185.5 237.1,185.6 237.5,185.5 237.9,185.6 238.3,185.3 238.7,185.4 239.1,185.6 239.5,185.5 239.9,185.5 240.3,185.3 240.7,185.6 241.1,185.3 241.5,185.5 241.9,185.5 242.3,185.6 242.7,185.6 243.1,185.4 243.5,185.4 243.9,185.5 244.3,185.3 244.7,185.6 245.1,185.5 245.5,185.5 245.9,185.4 246.3,185.5 246.7,185.4 247.1,185.5 247.5,185.4 247.9,185.6 248.3,185.4 248.7,185.2 249.1,185.6 249.5,185.5 249.9,185.4 250.3,185.6 250.7,185.5 251.1,185.4 251.5,185.4 251.9,185.5 252.3,185.5 252.7,185.6 253.1,185.6 253.5,185.4 253.9,185.5 254.3,185.6 254.7,185.5 255.1,185.4 255.5,185.6 255.9,185.5 256.3,185.4 256.7,185.4 257.1,185.5 257.5,185.5 257.9,185.4 258.3,185.6 258.7,185.4 259.1,185.4 259.5,185.5 259.9,185.3 260.3,185.4 260.7,185.6 261.1,185.4 261.5,185.4 261.9,185.6 262.3,185.5 262.7,185.5 263.1,185.5 263.5,185.4 263.9,185.5 264.3,185.5 264.7,185.6 265.1,185.6 265.5,185.5 265.9,185.5 266.3,185.5 266.7,185.4 267.1,185.4 267.5,185.6 267.9,185.4 268.3,185.4 268.7,185.6 269.1,185.6 269.5,185.4 269.9,185.6 270.3,185.5 270.7,185.6 271.1,185.5 271.5,185.5 271.9,185.6 272.3,185.6 272.7,185.4 273.1,185.6 273.5,185.5 273.9,185.6 274.3,185.5 274.7,185.3 275.1,185.4 275.5,185.5 275.9,185.6 276.3,185.6 276.7,185.5 277.1,185.5 277.5,185.4 277.9,185.5 278.3,185.5 278.7,185.3 279.1,185.6 279.5,185.6 279.9,185.6 280.3,185.4 280.7,185.5" fill="none" stroke="#0000ff" stroke-width="1.5" stroke-linejoin="round" marker-start="url(#mcb)" marker-mid="url(#mcb)" marker-end="url(#mcb)"/>
</g>
<path d="M41.5,3.5 H281.5 M41.5,3.0 V187.0 M281.5,3.0 V186.5" stroke="#474747" stroke-width="1.2" fill="none"/>
<line x1="37.8" y1="186.50" x2="41.5" y2="186.50" stroke="#474747" stroke-width="1.2"/>
<text x="35.4" y="189.40" text-anchor="end" class="tk">0</text>
<line x1="39.2" y1="171.25" x2="41.5" y2="171.25" stroke="#474747" stroke-width="1.2"/>
<line x1="37.8" y1="156.00" x2="41.5" y2="156.00" stroke="#474747" stroke-width="1.2"/>
<text x="35.4" y="158.90" text-anchor="end" class="tk">200</text>
<line x1="39.2" y1="140.75" x2="41.5" y2="140.75" stroke="#474747" stroke-width="1.2"/>
<line x1="37.8" y1="125.50" x2="41.5" y2="125.50" stroke="#474747" stroke-width="1.2"/>
<text x="35.4" y="128.40" text-anchor="end" class="tk">400</text>
<line x1="39.2" y1="110.25" x2="41.5" y2="110.25" stroke="#474747" stroke-width="1.2"/>
<line x1="37.8" y1="95.00" x2="41.5" y2="95.00" stroke="#474747" stroke-width="1.2"/>
<text x="35.4" y="97.90" text-anchor="end" class="tk">600</text>
<line x1="39.2" y1="79.75" x2="41.5" y2="79.75" stroke="#474747" stroke-width="1.2"/>
<line x1="37.8" y1="64.50" x2="41.5" y2="64.50" stroke="#474747" stroke-width="1.2"/>
<text x="35.4" y="67.40" text-anchor="end" class="tk">800</text>
<line x1="39.2" y1="49.25" x2="41.5" y2="49.25" stroke="#474747" stroke-width="1.2"/>
<line x1="37.8" y1="34.00" x2="41.5" y2="34.00" stroke="#474747" stroke-width="1.2"/>
<text x="35.4" y="36.90" text-anchor="end" class="tk">1000</text>
<line x1="39.2" y1="18.75" x2="41.5" y2="18.75" stroke="#474747" stroke-width="1.2"/>
<line x1="37.8" y1="3.50" x2="41.5" y2="3.50" stroke="#474747" stroke-width="1.2"/>
<text x="35.4" y="6.40" text-anchor="end" class="tk">1200</text>
<line x1="41.50" y1="186.5" x2="41.50" y2="191.0" stroke="#474747" stroke-width="1.2"/>
<text x="41.50" y="199.3" text-anchor="middle" class="tk">0</text>
<line x1="61.50" y1="186.5" x2="61.50" y2="189.0" stroke="#474747" stroke-width="1.2"/>
<line x1="81.50" y1="186.5" x2="81.50" y2="191.0" stroke="#474747" stroke-width="1.2"/>
<text x="81.50" y="199.3" text-anchor="middle" class="tk">100</text>
<line x1="101.50" y1="186.5" x2="101.50" y2="189.0" stroke="#474747" stroke-width="1.2"/>
<line x1="121.50" y1="186.5" x2="121.50" y2="191.0" stroke="#474747" stroke-width="1.2"/>
<text x="121.50" y="199.3" text-anchor="middle" class="tk">200</text>
<line x1="141.50" y1="186.5" x2="141.50" y2="189.0" stroke="#474747" stroke-width="1.2"/>
<line x1="161.50" y1="186.5" x2="161.50" y2="191.0" stroke="#474747" stroke-width="1.2"/>
<text x="161.50" y="199.3" text-anchor="middle" class="tk">300</text>
<line x1="181.50" y1="186.5" x2="181.50" y2="189.0" stroke="#474747" stroke-width="1.2"/>
<line x1="201.50" y1="186.5" x2="201.50" y2="191.0" stroke="#474747" stroke-width="1.2"/>
<text x="201.50" y="199.3" text-anchor="middle" class="tk">400</text>
<line x1="221.50" y1="186.5" x2="221.50" y2="189.0" stroke="#474747" stroke-width="1.2"/>
<line x1="241.50" y1="186.5" x2="241.50" y2="191.0" stroke="#474747" stroke-width="1.2"/>
<text x="241.50" y="199.3" text-anchor="middle" class="tk">500</text>
<line x1="261.50" y1="186.5" x2="261.50" y2="189.0" stroke="#474747" stroke-width="1.2"/>
<line x1="281.50" y1="186.5" x2="281.50" y2="191.0" stroke="#474747" stroke-width="1.2"/>
<text x="281.50" y="199.3" text-anchor="middle" class="tk">600</text>
<text x="140.70" y="217.2" class="at">Time (s)</text>
<text x="125.40" y="244.9" class="tt">(a) A1-A4</text>
<text transform="translate(11.30,95.2) rotate(-90)" text-anchor="middle" class="at">HHR (kW/m<tspan dy="-7.8" font-size="5.4">2</tspan><tspan dy="7.8">)</tspan></text>
<rect x="194.5" y="11.5" width="57.69999999999999" height="72.5" fill="#fff" stroke="#808080" stroke-width="1.1"/>
<polyline points="200.5,29.00 215.5,29.00 230.5,29.00" fill="none" stroke="#70ff70" stroke-width="1.1" marker-mid="url(#lsq)"/>
<text x="233.8" y="33.80" class="lg">A1</text>
<polyline points="200.5,45.20 215.5,45.20 230.5,45.20" fill="none" stroke="#008000" stroke-width="2.2" marker-mid="url(#ltri)"/>
<text x="233.8" y="50.00" class="lg">A2</text>
<polyline points="200.5,61.40 215.5,61.40 230.5,61.40" fill="none" stroke="#000000" stroke-width="2.2" marker-mid="url(#lcr)"/>
<text x="233.8" y="66.20" class="lg">A3</text>
<polyline points="200.5,77.60 215.5,77.60 230.5,77.60" fill="none" stroke="#0000ff" stroke-width="2.2" marker-mid="url(#lcb)"/>
<text x="233.8" y="82.40" class="lg">A4</text>
<line x1="356.5" y1="156.00" x2="594.0" y2="156.00" stroke="#c8c8c8" stroke-width="1" stroke-dasharray="1.4 1.35"/>
<line x1="356.5" y1="125.50" x2="594.0" y2="125.50" stroke="#c8c8c8" stroke-width="1" stroke-dasharray="1.4 1.35"/>
<line x1="356.5" y1="95.00" x2="594.0" y2="95.00" stroke="#c8c8c8" stroke-width="1" stroke-dasharray="1.4 1.35"/>
<line x1="356.5" y1="64.50" x2="594.0" y2="64.50" stroke="#c8c8c8" stroke-width="1" stroke-dasharray="1.4 1.35"/>
<line x1="356.5" y1="34.00" x2="594.0" y2="34.00" stroke="#c8c8c8" stroke-width="1" stroke-dasharray="1.4 1.35"/>
<path d="M355.5,3.5 H594.5 M355.5,3.0 V187.0 M594.5,3.0 V186.5 M355.0,186.5 H595.0" stroke="#474747" stroke-width="1.2" fill="none"/>
<clipPath id="cp1"><rect x="354.9" y="0" width="240.2" height="187.0"/></clipPath><g clip-path="url(#cp1)">
<polyline points="356.3,185.2 356.7,185.1 357.1,185.1 357.5,185.1 357.9,185.2 358.3,185.2 358.7,185.3 359.1,185.2 359.5,185.1 359.9,185.2 360.3,185.2 360.7,185.3 361.1,185.3 361.5,185.1 361.9,185.3 362.3,185.1 362.7,185.2 363.1,185.3 363.5,185.2 363.9,185.2 364.3,185.1 364.7,185.1 365.1,185.2 365.5,185.1 365.9,185.1 366.3,185.4 366.7,185.2 367.1,185.1 367.4,185.1 367.8,185.3 368.2,184.9 368.6,185.2 369.0,185.3 369.4,185.1 369.8,185.2 370.2,185.1 370.6,185.2 371.0,185.2 371.4,185.2 371.8,185.2 372.2,185.2 372.6,185.3 373.0,185.2 373.4,185.1 373.8,185.2 374.2,185.2 374.6,185.0 375.0,185.0 375.4,185.1 375.8,185.2 376.2,185.1 376.6,185.1 377.0,185.5 377.4,185.3 377.8,185.2 378.2,185.1 378.6,185.3 379.0,185.1 379.4,185.3 379.8,185.2 380.2,185.3 380.6,185.1 381.0,185.3 381.4,185.0 381.8,185.2 382.2,185.3 382.6,185.3 383.0,185.0 383.4,185.3 383.8,185.2 384.2,185.2 384.6,185.1 385.0,185.2 385.4,185.1 385.8,185.3 386.2,185.2 386.6,185.3 387.0,185.3 387.4,185.1 387.8,185.2 388.2,185.4 388.6,185.1 389.0,185.2 389.4,185.1 389.8,185.1 390.2,185.2 390.6,185.3 391.0,185.3 391.3,185.2 391.7,185.3 392.1,185.0 392.5,185.3 392.9,185.2 393.3,185.2 393.7,185.2 394.1,185.1 394.5,185.3 394.9,185.1 395.3,185.0 395.7,185.2 396.1,185.1 396.5,185.2 396.9,185.3 397.3,185.2 397.7,185.2 398.1,185.4 398.5,185.0 398.9,185.2 399.3,185.3 399.7,185.3 400.1,185.4 400.5,185.1 400.9,185.2 401.3,185.6 401.7,183.5 402.1,176.0 402.5,167.8 402.9,159.4 403.3,152.0 403.7,145.1 404.1,138.5 404.5,131.6 404.9,124.7 405.3,117.8 405.7,111.4 406.1,104.6 406.5,97.7 406.9,91.0 407.3,83.7 407.7,76.4 408.1,69.2 408.5,62.5 408.9,56.1 409.3,49.7 409.7,44.4 410.1,39.4 410.5,34.0 410.9,44.1 411.3,46.2 411.7,48.0 412.1,50.2 412.5,52.6 412.9,55.2 413.3,57.6 413.7,60.2 414.1,62.8 414.5,65.2 414.9,67.1 415.2,69.1 415.6,70.9 416.0,73.1 416.4,74.9 416.8,76.9 417.2,78.6 417.6,80.3 418.0,81.9 418.4,83.6 418.8,85.3 419.2,87.1 419.6,89.9 420.0,93.1 420.4,96.3 420.8,98.8 421.2,101.5 421.6,104.2 422.0,106.5 422.4,108.3 422.8,109.9 423.2,111.9 423.6,114.2 424.0,116.7 424.4,118.9 424.8,120.9 425.2,122.6 425.6,124.3 426.0,126.3 426.4,128.1 426.8,130.5 427.2,132.3 427.6,134.3 428.0,136.1 428.4,138.2 428.8,140.3 429.2,141.8 429.6,143.4 430.0,145.0 430.4,146.8 430.8,148.2 431.2,149.7 431.6,150.7 432.0,151.3 432.4,151.9 432.8,152.5 433.2,153.0 433.6,153.7 434.0,154.3 434.4,154.7 434.8,155.7 435.2,156.3 435.6,156.4 436.0,156.9 436.4,157.4 436.8,157.9 437.2,158.3 437.6,158.4 438.0,158.8 438.4,159.3 438.8,159.8 439.1,160.0 439.5,160.7 439.9,161.4 440.3,162.1 440.7,162.6 441.1,163.4 441.5,164.0 441.9,164.6 442.3,165.5 442.7,166.3 443.1,167.5 443.5,168.3 443.9,169.5 444.3,170.5 444.7,170.6 445.1,171.2 445.5,171.6 445.9,171.9 446.3,172.5 446.7,172.9 447.1,173.1 447.5,173.7 447.9,174.1 448.3,174.5 448.7,174.8 449.1,175.4 449.5,175.3 449.9,175.7 450.3,176.0 450.7,176.1 451.1,176.1 451.5,176.4 451.9,176.6 452.3,176.8 452.7,177.1 453.1,177.3 453.5,177.5 453.9,177.7 454.3,177.9 454.7,178.2 455.1,178.0 455.5,178.5 455.9,178.3 456.3,178.6 456.7,178.4 457.1,178.6 457.5,178.6 457.9,179.0 458.3,179.1 458.7,179.1 459.1,179.1 459.5,179.3 459.9,179.2 460.3,179.4 460.7,179.4 461.1,179.7 461.5,179.7 461.9,179.7 462.3,179.9 462.7,180.0 463.0,180.2 463.4,180.1 463.8,180.3 464.2,180.6 464.6,180.4 465.0,180.5 465.4,180.7 465.8,180.7 466.2,180.8 466.6,180.9 467.0,180.9 467.4,181.2 467.8,181.2 468.2,181.2 468.6,181.3 469.0,181.5 469.4,181.6 469.8,181.8 470.2,181.9 470.6,181.7 471.0,181.9 471.4,181.8 471.8,182.0 472.2,182.1 472.6,182.1 473.0,182.1 473.4,182.2 473.8,182.2 474.2,182.5 474.6,182.7 475.0,182.5 475.4,182.8 475.8,182.7 476.2,182.7 476.6,182.9 477.0,183.0 477.4,183.1 477.8,183.1 478.2,183.3 478.6,183.2 479.0,183.4 479.4,183.4 479.8,183.4 480.2,183.3 480.6,183.4 481.0,183.5 481.4,183.6 481.8,183.4 482.2,183.6 482.6,183.8 483.0,183.5 483.4,183.8 483.8,183.8 484.2,183.9 484.6,183.7 485.0,183.9 485.4,183.7 485.8,184.0 486.2,183.8 486.6,184.0 486.9,183.9 487.3,184.0 487.7,183.9 488.1,184.1 488.5,184.1 488.9,184.1 489.3,184.3 489.7,184.2 490.1,184.3 490.5,184.3 490.9,184.4 491.3,184.2 491.7,184.2 492.1,184.2 492.5,184.3 492.9,184.3 493.3,184.4 493.7,184.3 494.1,184.3 494.5,184.3 494.9,184.4 495.3,184.1 495.7,184.5 496.1,184.3 496.5,184.4 496.9,184.4 497.3,184.4 497.7,184.3 498.1,184.4 498.5,184.6 498.9,184.6 499.3,184.6 499.7,184.4 500.1,184.5 500.5,184.6 500.9,184.7 501.3,184.5 501.7,184.4 502.1,184.4 502.5,184.7 502.9,184.4 503.3,184.6 503.7,184.7 504.1,185.0 504.5,184.7 504.9,184.6 505.3,184.7 505.7,184.7 506.1,184.8 506.5,184.8 506.9,184.6 507.3,184.5 507.7,184.8 508.1,184.7 508.5,184.9 508.9,184.6 509.3,184.8 509.7,184.7 510.1,184.7 510.5,185.0 510.8,184.8 511.2,184.8 511.6,184.9 512.0,184.8 512.4,184.8 512.8,184.8 513.2,185.1 513.6,184.9 514.0,185.0 514.4,185.0 514.8,184.9 515.2,184.9 515.6,184.8 516.0,185.0 516.4,185.0 516.8,185.0 517.2,185.1 517.6,184.8 518.0,185.1 518.4,184.9 518.8,184.9 519.2,185.1 519.6,185.2 520.0,185.0 520.4,185.0 520.8,185.0 521.2,185.3 521.6,185.2 522.0,185.2 522.4,185.4 522.8,185.2 523.2,185.0 523.6,185.2 524.0,185.1 524.4,185.4 524.8,185.1 525.2,185.3 525.6,185.2 526.0,185.2 526.4,185.3 526.8,185.3 527.2,185.2 527.6,185.2 528.0,185.3 528.4,185.2 528.8,185.3 529.2,185.4 529.6,185.4 530.0,185.4 530.4,185.4 530.8,185.6 531.2,185.4 531.6,185.3 532.0,185.6 532.4,185.4 532.8,185.5 533.2,185.6 533.6,185.5 534.0,185.5 534.4,185.6 534.7,185.6 535.1,185.5 535.5,185.4 535.9,185.5 536.3,185.4 536.7,185.5 537.1,185.5 537.5,185.6 537.9,185.6 538.3,185.6 538.7,185.6 539.1,185.6 539.5,185.5 539.9,185.6 540.3,185.6 540.7,185.6 541.1,185.6 541.5,185.6 541.9,185.4 542.3,185.6 542.7,185.6 543.1,185.6 543.5,185.6 543.9,185.6 544.3,185.6 544.7,185.6 545.1,185.6 545.5,185.6 545.9,185.6 546.3,185.5 546.7,185.5 547.1,185.4 547.5,185.6 547.9,185.5 548.3,185.4 548.7,185.4 549.1,185.4 549.5,185.6 549.9,185.5 550.3,185.5 550.7,185.3 551.1,185.4 551.5,185.6 551.9,185.4 552.3,185.5 552.7,185.6 553.1,185.6 553.5,185.5 553.9,185.4 554.3,185.4 554.7,185.4 555.1,185.6 555.5,185.2 555.9,185.3 556.3,185.1 556.7,185.2 557.1,185.4 557.5,185.4 557.9,185.3 558.3,185.3 558.6,185.2 559.0,185.2 559.4,185.2 559.8,185.4 560.2,185.4 560.6,185.3 561.0,185.2 561.4,185.1 561.8,185.3 562.2,185.2 562.6,185.0 563.0,185.3 563.4,185.2 563.8,185.2 564.2,185.1 564.6,185.1 565.0,185.3 565.4,185.1 565.8,185.2 566.2,185.3 566.6,185.4 567.0,185.3 567.4,185.2 567.8,185.2 568.2,185.3 568.6,185.3 569.0,185.2 569.4,185.3 569.8,185.2 570.2,185.0 570.6,185.1 571.0,185.3 571.4,185.3 571.8,185.3 572.2,185.2 572.6,185.1 573.0,185.3 573.4,185.2 573.8,185.0 574.2,185.3 574.6,185.1 575.0,185.3 575.4,185.3 575.8,185.3 576.2,185.3 576.6,185.3 577.0,185.1 577.4,185.1 577.8,185.3 578.2,185.2 578.6,185.0 579.0,185.0 579.4,185.3 579.8,185.4 580.2,185.3 580.6,185.2 581.0,185.2 581.4,184.9 581.8,185.1 582.2,185.3 582.5,185.3 582.9,185.0 583.3,185.3 583.7,185.3 584.1,185.3 584.5,185.2 584.9,185.2 585.3,185.1 585.7,185.2 586.1,185.3 586.5,185.1 586.9,185.2 587.3,185.1 587.7,185.3 588.1,185.3 588.5,185.0 588.9,185.2 589.3,185.3 589.7,185.1 590.1,185.2 590.5,185.2 590.9,185.1 591.3,185.2 591.7,185.4 592.1,185.2 592.5,185.4 592.9,185.3 593.3,185.3 593.7,185.2" fill="none" stroke="#70ff70" stroke-width="1.0" stroke-linejoin="round" marker-start="url(#msq)" marker-mid="url(#msq)" marker-end="url(#msq)"/>
<polyline points="356.3,185.1 356.7,185.1 357.1,184.8 357.5,184.5 357.9,184.2 358.3,184.1 358.7,184.1 359.1,184.1 359.5,183.8 359.9,184.2 360.3,184.3 360.7,184.4 361.1,184.5 361.5,184.9 361.9,184.9 362.3,184.8 362.7,185.0 363.1,185.3 363.5,185.3 363.9,185.2 364.3,185.2 364.7,185.2 365.1,185.2 365.5,185.1 365.9,185.3 366.3,184.9 366.7,185.1 367.1,185.3 367.4,185.1 367.8,185.1 368.2,185.4 368.6,185.3 369.0,185.2 369.4,185.1 369.8,185.2 370.2,185.2 370.6,185.2 371.0,185.1 371.4,185.3 371.8,185.1 372.2,185.0 372.6,185.1 373.0,185.2 373.4,185.1 373.8,184.9 374.2,185.4 374.6,185.2 375.0,185.1 375.4,185.1 375.8,185.2 376.2,185.3 376.6,185.1 377.0,185.2 377.4,185.1 377.8,185.2 378.2,185.1 378.6,185.0 379.0,185.2 379.4,185.2 379.8,185.3 380.2,185.1 380.6,185.3 381.0,185.2 381.4,185.4 381.8,185.2 382.2,185.3 382.6,185.2 383.0,185.2 383.4,185.3 383.8,185.0 384.2,185.1 384.6,185.4 385.0,185.0 385.4,185.1 385.8,185.2 386.2,185.3 386.6,185.1 387.0,185.2 387.4,185.1 387.8,185.2 388.2,185.3 388.6,185.2 389.0,185.2 389.4,185.2 389.8,185.2 390.2,185.2 390.6,185.2 391.0,185.1 391.3,185.3 391.7,185.1 392.1,185.3 392.5,185.4 392.9,185.4 393.3,185.4 393.7,185.1 394.1,185.2 394.5,185.1 394.9,185.1 395.3,185.0 395.7,185.1 396.1,185.3 396.5,185.3 396.9,184.9 397.3,177.9 397.7,170.4 398.1,162.6 398.5,155.0 398.9,147.8 399.3,141.1 399.7,134.2 400.1,127.5 400.5,120.9 400.9,114.4 401.3,107.7 401.7,101.1 402.1,94.5 402.5,87.6 402.9,79.4 403.3,71.3 403.7,61.6 404.1,53.6 404.5,49.2 404.9,45.4 405.3,43.4 405.7,41.0 406.1,40.4 406.5,39.6 406.9,39.7 407.3,40.4 407.7,40.8 408.1,40.8 408.5,41.6 408.9,43.7 409.3,46.2 409.7,49.2 410.1,53.5 410.5,56.5 410.9,58.6 411.3,60.4 411.7,63.1 412.1,65.7 412.5,69.8 412.9,76.4 413.3,78.8 413.7,82.6 414.1,87.1 414.5,91.2 414.9,94.3 415.2,97.2 415.6,99.7 416.0,102.2 416.4,105.3 416.8,108.0 417.2,110.8 417.6,113.5 418.0,116.3 418.4,118.0 418.8,119.5 419.2,121.2 419.6,122.8 420.0,124.4 420.4,126.4 420.8,128.2 421.2,130.4 421.6,132.2 422.0,134.3 422.4,136.3 422.8,138.3 423.2,140.2 423.6,142.4 424.0,144.3 424.4,146.3 424.8,148.1 425.2,149.8 425.6,151.6 426.0,153.1 426.4,154.5 426.8,155.7 427.2,156.9 427.6,157.9 428.0,159.0 428.4,160.1 428.8,161.3 429.2,162.3 429.6,163.4 430.0,164.4 430.4,165.2 430.8,165.6 431.2,166.1 431.6,166.5 432.0,167.1 432.4,167.7 432.8,168.1 433.2,168.7 433.6,169.0 434.0,169.6 434.4,170.1 434.8,170.2 435.2,170.5 435.6,170.7 436.0,171.0 436.4,171.3 436.8,171.7 437.2,171.9 437.6,172.2 438.0,172.4 438.4,172.6 438.8,173.3 439.1,173.3 439.5,173.6 439.9,173.8 440.3,174.2 440.7,174.4 441.1,174.7 441.5,174.8 441.9,174.6 442.3,174.7 442.7,174.6 443.1,174.7 443.5,174.5 443.9,174.6 444.3,174.4 444.7,174.3 445.1,174.3 445.5,174.3 445.9,174.3 446.3,174.3 446.7,174.5 447.1,174.2 447.5,174.3 447.9,174.3 448.3,174.2 448.7,174.1 449.1,174.3 449.5,174.5 449.9,174.6 450.3,174.8 450.7,175.1 451.1,175.1 451.5,175.5 451.9,175.7 452.3,176.0 452.7,175.9 453.1,176.2 453.5,176.5 453.9,176.6 454.3,176.8 454.7,177.0 455.1,177.2 455.5,177.3 455.9,177.4 456.3,177.3 456.7,177.6 457.1,177.5 457.5,177.9 457.9,178.0 458.3,177.9 458.7,178.2 459.1,178.1 459.5,178.3 459.9,178.4 460.3,178.5 460.7,178.5 461.1,178.7 461.5,178.7 461.9,178.8 462.3,178.8 462.7,178.8 463.0,179.2 463.4,179.3 463.8,179.1 464.2,179.4 464.6,179.5 465.0,179.3 465.4,179.6 465.8,179.7 466.2,180.0 466.6,180.0 467.0,180.1 467.4,180.1 467.8,180.3 468.2,180.2 468.6,180.4 469.0,180.5 469.4,180.4 469.8,180.7 470.2,180.9 470.6,181.0 471.0,181.0 471.4,180.9 471.8,181.0 472.2,181.0 472.6,181.3 473.0,181.2 473.4,181.2 473.8,181.2 474.2,181.5 474.6,181.6 475.0,181.5 475.4,181.6 475.8,181.7 476.2,182.0 476.6,181.8 477.0,182.0 477.4,182.1 477.8,182.1 478.2,182.3 478.6,182.3 479.0,182.3 479.4,182.5 479.8,182.6 480.2,182.5 480.6,182.6 481.0,182.5 481.4,182.6 481.8,182.6 482.2,182.5 482.6,182.7 483.0,182.5 483.4,182.7 483.8,182.7 484.2,182.8 484.6,182.8 485.0,182.9 485.4,183.0 485.8,183.0 486.2,182.8 486.6,182.8 486.9,182.9 487.3,182.9 487.7,182.8 488.1,182.9 488.5,182.9 488.9,183.1 489.3,183.3 489.7,183.4 490.1,183.1 490.5,183.2 490.9,183.1 491.3,183.1 491.7,183.2 492.1,183.3 492.5,183.2 492.9,183.3 493.3,183.3 493.7,183.4 494.1,183.3 494.5,183.4 494.9,183.3 495.3,183.4 495.7,183.4 496.1,183.2 496.5,183.3 496.9,183.4 497.3,183.4 497.7,183.4 498.1,183.4 498.5,183.3 498.9,183.4 499.3,183.5 499.7,183.4 500.1,183.6 500.5,183.6 500.9,183.6 501.3,183.6 501.7,183.5 502.1,183.8 502.5,183.5 502.9,183.6 503.3,183.7 503.7,183.6 504.1,183.6 504.5,183.6 504.9,183.6 505.3,183.7 505.7,183.8 506.1,183.6 506.5,183.8 506.9,183.8 507.3,183.7 507.7,183.7 508.1,183.7 508.5,183.6 508.9,183.8 509.3,183.8 509.7,183.7 510.1,183.9 510.5,183.9 510.8,183.8 511.2,183.9 511.6,183.8 512.0,184.1 512.4,183.8 512.8,183.8 513.2,183.8 513.6,183.9 514.0,184.0 514.4,184.0 514.8,183.9 515.2,184.2 515.6,184.1 516.0,184.0 516.4,184.0 516.8,183.9 517.2,184.0 517.6,184.2 518.0,183.9 518.4,183.9 518.8,184.1 519.2,183.8 519.6,184.2 520.0,184.0 520.4,184.0 520.8,184.1 521.2,184.3 521.6,184.2 522.0,184.0 522.4,184.0 522.8,184.2 523.2,184.0 523.6,184.2 524.0,184.1 524.4,184.3 524.8,184.4 525.2,184.0 525.6,184.3 526.0,184.3 526.4,184.2 526.8,184.2 527.2,184.2 527.6,184.3 528.0,184.4 528.4,184.5 528.8,184.5 529.2,184.3 529.6,184.3 530.0,184.5 530.4,184.1 530.8,184.3 531.2,184.5 531.6,184.7 532.0,184.4 532.4,184.5 532.8,184.4 533.2,184.5 533.6,184.5 534.0,184.4 534.4,184.6 534.7,184.5 535.1,184.6 535.5,184.5 535.9,184.5 536.3,184.6 536.7,184.7 537.1,184.5 537.5,184.8 537.9,184.7 538.3,184.6 538.7,184.7 539.1,184.6 539.5,184.6 539.9,184.8 540.3,184.8 540.7,184.7 541.1,184.7 541.5,184.7 541.9,184.8 542.3,184.9 542.7,184.7 543.1,184.8 543.5,184.8 543.9,184.8 544.3,184.9 544.7,184.7 545.1,184.6 545.5,184.8 545.9,184.6 546.3,185.0 546.7,184.7 547.1,184.8 547.5,184.9 547.9,184.9 548.3,184.8 548.7,184.9 549.1,185.0 549.5,184.8 549.9,185.1 550.3,184.9 550.7,184.7 551.1,185.0 551.5,184.7 551.9,184.9 552.3,185.1 552.7,185.0 553.1,184.8 553.5,184.9 553.9,184.9 554.3,185.1 554.7,184.9 555.1,185.1 555.5,185.0 555.9,185.0 556.3,185.0 556.7,185.2 557.1,184.8 557.5,184.9 557.9,185.1 558.3,185.1 558.6,184.9 559.0,184.9 559.4,184.9 559.8,185.1 560.2,185.0 560.6,185.2 561.0,185.1 561.4,185.1 561.8,185.1 562.2,185.1 562.6,185.2 563.0,185.1 563.4,185.1 563.8,185.2 564.2,185.1 564.6,185.2 565.0,185.1 565.4,185.0 565.8,185.1 566.2,185.2 566.6,185.2 567.0,184.9 567.4,185.1 567.8,185.0 568.2,185.0 568.6,185.0 569.0,185.0 569.4,185.0 569.8,185.0 570.2,185.1 570.6,184.9 571.0,184.9 571.4,184.9 571.8,184.9 572.2,185.1 572.6,184.9 573.0,185.0 573.4,185.0 573.8,185.1 574.2,185.0 574.6,185.1 575.0,185.0 575.4,185.0 575.8,185.1 576.2,184.9 576.6,185.1 577.0,185.2 577.4,185.0 577.8,185.0 578.2,185.2 578.6,185.0 579.0,185.1 579.4,184.8 579.8,185.0 580.2,184.9 580.6,185.0 581.0,185.1 581.4,185.0 581.8,185.0 582.2,184.7 582.5,185.1 582.9,185.1 583.3,185.0 583.7,184.9 584.1,185.0 584.5,185.1 584.9,185.0 585.3,185.2 585.7,184.9 586.1,184.8 586.5,185.0 586.9,185.1 587.3,184.9 587.7,184.9 588.1,184.9 588.5,184.8 588.9,184.9 589.3,184.7 589.7,185.0 590.1,185.0 590.5,185.0 590.9,184.8 591.3,184.9 591.7,184.7 592.1,184.8 592.5,185.0 592.9,185.2 593.3,184.8 593.7,184.9" fill="none" stroke="#008000" stroke-width="1.5" stroke-linejoin="round" marker-start="url(#mtri)" marker-mid="url(#mtri)" marker-end="url(#mtri)"/>
<polyline points="356.3,185.4 356.7,185.2 357.1,185.4 357.5,185.3 357.9,185.3 358.3,185.4 358.7,185.3 359.1,185.2 359.5,185.4 359.9,185.3 360.3,185.2 360.7,185.2 361.1,185.4 361.5,185.2 361.9,185.3 362.3,185.4 362.7,185.3 363.1,185.4 363.5,185.1 363.9,185.4 364.3,185.4 364.7,185.5 365.1,185.3 365.5,185.4 365.9,185.3 366.3,185.2 366.7,185.2 367.1,185.2 367.4,185.4 367.8,185.2 368.2,185.3 368.6,185.4 369.0,185.5 369.4,185.4 369.8,185.5 370.2,185.2 370.6,185.2 371.0,185.3 371.4,185.4 371.8,185.4 372.2,185.2 372.6,185.3 373.0,185.1 373.4,185.4 373.8,185.1 374.2,185.3 374.6,185.5 375.0,185.4 375.4,185.1 375.8,185.3 376.2,185.3 376.6,185.3 377.0,185.5 377.4,185.3 377.8,185.1 378.2,185.1 378.6,185.4 379.0,185.3 379.4,185.1 379.8,185.0 380.2,185.2 380.6,185.2 381.0,185.4 381.4,185.2 381.8,185.4 382.2,185.5 382.6,185.0 383.0,185.2 383.4,185.5 383.8,185.2 384.2,185.3 384.6,185.5 385.0,185.2 385.4,185.2 385.8,185.0 386.2,185.4 386.6,185.2 387.0,185.2 387.4,184.9 387.8,185.5 388.2,185.4 388.6,185.2 389.0,185.5 389.4,184.9 389.8,185.3 390.2,185.0 390.6,185.6 391.0,184.8 391.3,185.1 391.7,185.2 392.1,185.4 392.5,185.4 392.9,185.4 393.3,185.2 393.7,185.6 394.1,185.2 394.5,185.3 394.9,185.6 395.3,185.1 395.7,185.1 396.1,185.5 396.5,185.4 396.9,184.5 397.3,176.5 397.7,169.1 398.1,161.1 398.5,153.6 398.9,146.3 399.3,139.4 399.7,133.1 400.1,126.3 400.5,119.7 400.9,112.8 401.3,106.2 401.7,99.7 402.1,93.3 402.5,85.8 402.9,77.9 403.3,69.7 403.5,64.3 403.7,58.8 404.1,50.9 404.5,46.9 404.9,43.0 405.3,39.0 405.7,39.0 406.1,41.5 406.5,39.0 406.9,39.0 407.3,45.4 407.7,39.8 408.1,48.0 408.5,49.7 408.9,49.1 409.3,55.1 409.7,57.3 410.1,62.5 410.5,63.8 410.9,65.0 411.3,67.0 411.7,74.9 412.1,78.4 412.5,80.9 412.9,86.2 413.3,90.4 413.7,94.2 414.1,97.3 414.5,99.4 414.9,102.3 415.2,104.6 415.6,108.2 416.0,110.8 416.4,114.1 416.8,116.8 417.2,117.4 417.6,118.5 418.0,121.5 418.4,123.5 418.8,123.8 419.2,127.2 419.6,128.2 420.0,130.0 420.4,132.3 420.8,133.0 421.2,134.7 421.6,137.8 422.0,139.1 422.4,142.0 422.8,144.0 423.2,143.7 423.6,147.1 424.0,150.1 424.4,149.4 424.8,152.6 425.2,153.0 425.6,153.8 426.0,157.9 426.4,158.9 426.8,158.7 427.2,159.7 427.6,162.3 428.0,163.2 428.4,163.3 428.8,165.1 429.2,165.2 429.6,165.4 430.0,166.6 430.4,166.3 430.8,167.6 431.2,167.4 431.6,167.8 432.0,168.2 432.4,169.5 432.8,170.3 433.2,170.3 433.6,169.7 434.0,171.0 434.4,170.2 434.8,170.4 435.2,171.3 435.6,172.3 436.0,172.5 436.4,172.7 436.8,173.5 437.2,173.5 437.6,172.9 438.0,174.0 438.4,173.6 438.8,174.3 439.1,174.7 439.5,174.6 439.9,174.0 440.3,175.1 440.7,175.3 441.1,175.7 441.5,175.8 441.9,175.7 442.3,175.7 442.7,177.3 443.1,177.6 443.5,177.7 443.9,177.7 444.3,179.1 444.7,178.7 445.1,178.6 445.5,179.3 445.9,179.2 446.3,179.8 446.7,179.9 447.1,180.3 447.5,180.2 447.9,180.1 448.3,180.7 448.7,181.1 449.1,180.4 449.5,180.7 449.9,180.6 450.3,181.6 450.7,181.3 451.1,181.9 451.5,181.3 451.9,182.1 452.3,181.7 452.7,181.9 453.1,182.5 453.5,182.3 453.9,182.3 454.3,183.0 454.7,182.8 455.1,183.4 455.5,183.9 455.9,182.9 456.3,183.1 456.7,182.8 457.1,182.9 457.5,183.6 457.9,183.5 458.3,183.6 458.7,183.7 459.1,183.4 459.5,183.2 459.9,184.1 460.3,183.9 460.7,184.2 461.1,184.0 461.5,184.2 461.9,184.0 462.3,184.2 462.7,184.2 463.0,184.4 463.4,184.6 463.8,184.5 464.2,183.9 464.6,184.5 465.0,184.6 465.4,184.8 465.8,184.8 466.2,184.7 466.6,184.7 467.0,184.9 467.4,184.9 467.8,185.2 468.2,185.2 468.6,185.2 469.0,185.4 469.4,185.5 469.8,185.3 470.2,185.4 470.6,185.4 471.0,185.3 471.4,185.3 471.8,185.3 472.2,185.4 472.6,185.4 473.0,185.5 473.4,185.3 473.8,185.5 474.2,185.3 474.6,185.4 475.0,185.5 475.4,185.5 475.8,185.5 476.2,185.6 476.6,185.5 477.0,185.4 477.4,185.4 477.8,185.3 478.2,185.4 478.6,185.3 479.0,185.3 479.4,185.3 479.8,185.2 480.2,185.6 480.6,185.5 481.0,185.2 481.4,185.4 481.8,185.3 482.2,185.2 482.6,185.4 483.0,185.4 483.4,185.5 483.8,185.5 484.2,185.3 484.6,185.4 485.0,185.5 485.4,185.5 485.8,185.4 486.2,185.4 486.6,185.5 486.9,185.3 487.3,185.3 487.7,185.6 488.1,185.4 488.5,185.5 488.9,185.4 489.3,185.4 489.7,185.4 490.1,185.4 490.5,185.4 490.9,185.4 491.3,185.4 491.7,185.5 492.1,185.5 492.5,185.6 492.9,185.3 493.3,185.4 493.7,185.5 494.1,185.4 494.5,185.2 494.9,185.4 495.3,185.4 495.7,185.4 496.1,185.4 496.5,185.3 496.9,185.5 497.3,185.5 497.7,185.4 498.1,185.5 498.5,185.5 498.9,185.3 499.3,185.3 499.7,185.3 500.1,185.5 500.5,185.4 500.9,185.5 501.3,185.5 501.7,185.4 502.1,185.3 502.5,185.4 502.9,185.6 503.3,185.3 503.7,185.3 504.1,185.4 504.5,185.5 504.9,185.4 505.3,185.3 505.7,185.4 506.1,185.4 506.5,185.4 506.9,185.5 507.3,185.6 507.7,185.5 508.1,185.5 508.5,185.4 508.9,185.3 509.3,185.5 509.7,185.5 510.1,185.5 510.5,185.4 510.8,185.5 511.2,185.4 511.6,185.4 512.0,185.4 512.4,185.4 512.8,185.4 513.2,185.5 513.6,185.4 514.0,185.4 514.4,185.5 514.8,185.5 515.2,185.5 515.6,185.3 516.0,185.5 516.4,185.3 516.8,185.2 517.2,185.3 517.6,185.1 518.0,185.1 518.4,185.2 518.8,185.3 519.2,185.0 519.6,185.2 520.0,185.1 520.4,185.3 520.8,185.1 521.2,185.2 521.6,185.2 522.0,185.0 522.4,185.1 522.8,185.0 523.2,185.0 523.6,185.1 524.0,185.1 524.4,185.1 524.8,185.1 525.2,185.0 525.6,185.1 526.0,185.0 526.4,185.0 526.8,184.9 527.2,185.1 527.6,185.1 528.0,185.0 528.4,185.0 528.8,184.9 529.2,185.0 529.6,185.1 530.0,184.9 530.4,185.1 530.8,185.0 531.2,185.1 531.6,185.0 532.0,184.9 532.4,185.1 532.8,185.1 533.2,185.0 533.6,185.1 534.0,185.0 534.4,185.0 534.7,185.2 535.1,185.1 535.5,185.0 535.9,185.1 536.3,185.1 536.7,185.0 537.1,185.1 537.5,184.8 537.9,185.1 538.3,185.2 538.7,185.1 539.1,184.9 539.5,185.2 539.9,185.3 540.3,185.1 540.7,184.9 541.1,185.0 541.5,185.0 541.9,185.1 542.3,185.2 542.7,185.1 543.1,184.8 543.5,185.0 543.9,185.0 544.3,185.2 544.7,185.0 545.1,184.9 545.5,185.0 545.9,185.1 546.3,184.9 546.7,185.1 547.1,185.0 547.5,185.1 547.9,185.1 548.3,185.1 548.7,185.2 549.1,185.2 549.5,185.0 549.9,185.0 550.3,185.1 550.7,185.0 551.1,185.0 551.5,185.0 551.9,184.9 552.3,185.0 552.7,184.7 553.1,185.0 553.5,185.2 553.9,185.1 554.3,185.1 554.7,185.0 555.1,184.9 555.5,185.1 555.9,185.0 556.3,185.0 556.7,185.0 557.1,185.0 557.5,185.0 557.9,185.1 558.3,185.1 558.6,185.0 559.0,185.1 559.4,185.0 559.8,184.8 560.2,184.8 560.6,185.0 561.0,184.9 561.4,185.1 561.8,184.9 562.2,185.0 562.6,184.9 563.0,184.9 563.4,185.0 563.8,185.1 564.2,185.2 564.6,185.2 565.0,185.4 565.4,185.5 565.8,185.5 566.2,185.4 566.6,185.4 567.0,185.5 567.4,185.4 567.8,185.5 568.2,185.6 568.6,185.6 569.0,185.5 569.4,185.6 569.8,185.6 570.2,185.6 570.6,185.6 571.0,185.4 571.4,185.6 571.8,185.4 572.2,185.5 572.6,185.4 573.0,185.3 573.4,185.3 573.8,185.6 574.2,185.6 574.6,185.4 575.0,185.4 575.4,185.6 575.8,185.4 576.2,185.5 576.6,185.6 577.0,185.6 577.4,185.6 577.8,185.5 578.2,185.3 578.6,185.4 579.0,185.3 579.4,185.5 579.8,185.4 580.2,185.5 580.6,185.5 581.0,185.4 581.4,185.6 581.8,185.5 582.2,185.4 582.5,185.6 582.9,185.5 583.3,185.4 583.7,185.6 584.1,185.4 584.5,185.5 584.9,185.6 585.3,185.5 585.7,185.4 586.1,185.5 586.5,185.5 586.9,185.4 587.3,185.6 587.7,185.4 588.1,185.4 588.5,185.6 588.9,185.4 589.3,185.3 589.7,185.5 590.1,185.5 590.5,185.5 590.9,185.6 591.3,185.4 591.7,185.6 592.1,185.6 592.5,185.6 592.9,185.5 593.3,185.5 593.7,185.5" fill="none" stroke="#000000" stroke-width="1.3" stroke-linejoin="round" marker-start="url(#mcr)" marker-mid="url(#mcr)" marker-end="url(#mcr)"/>
<polyline points="356.3,185.5 356.7,185.6 357.1,185.6 357.5,185.3 357.9,185.6 358.3,185.5 358.7,185.5 359.1,185.4 359.5,185.5 359.9,185.3 360.3,185.6 360.7,185.4 361.1,185.5 361.5,185.5 361.9,185.6 362.3,185.4 362.7,185.6 363.1,185.5 363.5,185.6 363.9,185.5 364.3,185.5 364.7,185.3 365.1,185.5 365.5,185.6 365.9,185.5 366.3,185.5 366.7,185.5 367.1,185.6 367.4,185.3 367.8,185.6 368.2,185.6 368.6,185.6 369.0,185.5 369.4,185.6 369.8,185.5 370.2,185.6 370.6,185.5 371.0,185.4 371.4,185.5 371.8,185.6 372.2,185.5 372.6,185.5 373.0,185.5 373.4,185.4 373.8,185.4 374.2,185.5 374.6,185.4 375.0,185.6 375.4,185.6 375.8,185.6 376.2,185.6 376.6,185.5 377.0,185.5 377.4,185.4 377.8,185.5 378.2,185.5 378.6,185.6 379.0,185.4 379.4,185.5 379.8,185.4 380.2,185.6 380.6,185.6 381.0,185.4 381.4,185.6 381.8,185.6 382.2,185.4 382.6,185.4 383.0,185.3 383.4,185.3 383.8,185.5 384.2,185.3 384.6,185.5 385.0,185.3 385.4,185.5 385.8,185.6 386.2,185.5 386.6,185.5 387.0,185.6 387.4,185.5 387.8,185.6 388.2,185.4 388.6,185.5 389.0,185.5 389.4,185.5 389.8,185.4 390.2,185.5 390.6,185.6 391.0,185.6 391.3,185.5 391.7,185.4 392.1,185.6 392.5,185.6 392.9,185.4 393.3,185.3 393.7,185.5 394.1,185.6 394.5,185.6 394.9,185.4 395.3,185.6 395.7,185.4 396.1,185.6 396.5,185.5 396.9,185.6 397.3,185.5 397.7,185.5 398.1,185.6 398.5,185.4 398.9,185.5 399.3,185.5 399.7,185.4 400.1,185.6 400.5,185.6 400.9,185.5 401.3,185.3 401.7,181.9 402.1,173.9 402.5,165.7 402.9,157.1 403.3,149.9 403.7,143.3 404.1,136.3 404.5,129.6 404.9,122.6 405.3,116.0 405.7,109.2 406.1,102.5 406.5,95.8 406.9,88.9 407.3,81.7 407.7,74.2 408.1,67.2 408.5,60.2 408.9,54.1 409.3,48.1 409.7,42.6 410.1,37.4 410.5,32.3 410.9,38.3 411.3,40.2 411.7,44.7 412.1,46.1 412.5,48.9 412.9,49.3 413.3,50.9 413.7,55.2 414.1,57.2 414.5,62.4 414.9,63.2 415.2,66.7 415.6,67.7 416.0,68.8 416.4,69.5 416.8,72.9 417.2,75.7 417.6,77.0 418.0,78.9 418.4,80.5 418.8,80.6 419.2,83.9 419.6,84.5 420.0,87.1 420.4,91.7 420.8,91.6 421.2,96.1 421.6,99.4 422.0,102.8 422.4,104.4 422.8,105.6 423.2,109.0 423.6,110.7 424.0,110.2 424.4,114.4 424.8,115.1 425.2,116.3 425.6,119.8 426.0,121.7 426.4,122.4 426.8,128.2 427.2,127.2 427.6,130.8 428.0,133.1 428.4,136.4 428.8,136.1 429.2,139.8 429.6,139.3 430.0,141.9 430.4,143.2 430.8,144.3 431.2,147.0 431.6,149.9 432.0,151.6 432.4,151.1 432.8,150.3 433.2,151.1 433.6,152.8 434.0,153.4 434.4,154.0 434.8,153.9 435.2,154.1 435.6,155.7 436.0,155.9 436.4,157.3 436.8,156.3 437.2,157.7 437.6,158.4 438.0,159.2 438.4,159.6 438.8,158.1 439.1,158.4 439.5,159.6 439.9,159.4 440.3,159.2 440.7,162.1 441.1,162.2 441.5,163.2 441.9,163.3 442.3,164.5 442.7,164.7 443.1,165.4 443.5,167.4 443.9,166.7 444.3,168.6 444.7,168.5 445.1,170.9 445.5,170.5 445.9,170.5 446.3,170.8 446.7,172.0 447.1,173.6 447.5,173.4 447.9,172.9 448.3,173.2 448.7,175.9 449.1,174.8 449.5,174.6 449.9,175.5 450.3,175.9 450.7,176.5 451.1,176.0 451.5,176.0 451.9,176.7 452.3,176.3 452.7,177.0 453.1,177.1 453.5,177.6 453.9,177.2 454.3,177.4 454.7,177.9 455.1,178.2 455.5,177.6 455.9,177.9 456.3,178.3 456.7,178.3 457.1,179.2 457.5,178.8 457.9,179.0 458.3,178.7 458.7,178.9 459.1,179.0 459.5,179.3 459.9,179.0 460.3,179.6 460.7,179.1 461.1,179.7 461.5,179.6 461.9,179.5 462.3,180.1 462.7,180.0 463.0,179.8 463.4,179.8 463.8,180.2 464.2,180.0 464.6,180.4 465.0,180.2 465.4,180.5 465.8,180.4 466.2,180.6 466.6,181.0 467.0,181.1 467.4,180.8 467.8,181.0 468.2,180.9 468.6,181.2 469.0,181.4 469.4,181.3 469.8,181.4 470.2,181.6 470.6,181.6 471.0,181.7 471.4,181.9 471.8,181.9 472.2,182.0 472.6,182.2 473.0,182.1 473.4,182.2 473.8,182.2 474.2,182.2 474.6,182.5 475.0,182.3 475.4,182.5 475.8,182.4 476.2,182.5 476.6,182.6 477.0,182.7 477.4,182.9 477.8,183.0 478.2,182.8 478.6,183.1 479.0,183.1 479.4,183.1 479.8,183.2 480.2,183.3 480.6,183.3 481.0,183.4 481.4,183.6 481.8,183.4 482.2,183.5 482.6,183.4 483.0,183.6 483.4,183.5 483.8,183.6 484.2,183.5 484.6,183.6 485.0,183.6 485.4,183.5 485.8,183.6 486.2,183.7 486.6,183.8 486.9,183.9 487.3,184.0 487.7,184.0 488.1,183.8 488.5,183.8 488.9,184.0 489.3,183.9 489.7,184.1 490.1,184.1 490.5,183.9 490.9,184.1 491.3,184.2 491.7,184.1 492.1,184.0 492.5,184.1 492.9,184.1 493.3,184.0 493.7,184.1 494.1,184.1 494.5,184.1 494.9,184.1 495.3,184.2 495.7,184.1 496.1,184.2 496.5,184.0 496.9,184.2 497.3,184.2 497.7,184.3 498.1,184.3 498.5,184.3 498.9,184.3 499.3,184.3 499.7,184.2 500.1,184.2 500.5,184.2 500.9,184.4 501.3,184.4 501.7,184.4 502.1,184.4 502.5,184.5 502.9,184.4 503.3,184.4 503.7,184.4 504.1,184.4 504.5,184.4 504.9,184.3 505.3,184.4 505.7,184.4 506.1,184.7 506.5,184.6 506.9,184.4 507.3,184.4 507.7,184.5 508.1,184.4 508.5,184.7 508.9,184.6 509.3,184.5 509.7,184.7 510.1,184.7 510.5,184.6 510.8,184.7 511.2,184.5 511.6,184.6 512.0,184.6 512.4,184.5 512.8,184.8 513.2,184.9 513.6,184.6 514.0,184.7 514.4,184.8 514.8,184.7 515.2,184.8 515.6,184.7 516.0,184.8 516.4,184.7 516.8,184.9 517.2,184.9 517.6,184.9 518.0,184.8 518.4,184.8 518.8,184.9 519.2,184.8 519.6,184.8 520.0,184.7 520.4,184.9 520.8,184.9 521.2,185.0 521.6,184.8 522.0,184.8 522.4,185.1 522.8,185.1 523.2,184.9 523.6,185.0 524.0,184.8 524.4,185.0 524.8,185.2 525.2,185.1 525.6,185.0 526.0,185.1 526.4,185.0 526.8,185.1 527.2,185.1 527.6,185.2 528.0,185.3 528.4,185.2 528.8,185.2 529.2,185.2 529.6,185.3 530.0,185.2 530.4,185.2 530.8,185.2 531.2,185.4 531.6,185.3 532.0,185.3 532.4,185.2 532.8,185.1 533.2,185.3 533.6,185.4 534.0,185.3 534.4,185.3 534.7,185.3 535.1,185.4 535.5,185.4 535.9,185.4 536.3,185.3 536.7,185.3 537.1,185.6 537.5,185.4 537.9,185.5 538.3,185.5 538.7,185.3 539.1,185.6 539.5,185.5 539.9,185.4 540.3,185.6 540.7,185.4 541.1,185.5 541.5,185.4 541.9,185.5 542.3,185.6 542.7,185.5 543.1,185.4 543.5,185.4 543.9,185.6 544.3,185.3 544.7,185.4 545.1,185.6 545.5,185.5 545.9,185.5 546.3,185.5 546.7,185.5 547.1,185.6 547.5,185.5 547.9,185.3 548.3,185.6 548.7,185.3 549.1,185.6 549.5,185.5 549.9,185.6 550.3,185.5 550.7,185.4 551.1,185.6 551.5,185.5 551.9,185.6 552.3,185.6 552.7,185.5 553.1,185.6 553.5,185.6 553.9,185.5 554.3,185.4 554.7,185.6 555.1,185.6 555.5,185.6 555.9,185.5 556.3,185.4 556.7,185.4 557.1,185.6 557.5,185.5 557.9,185.6 558.3,185.3 558.6,185.6 559.0,185.4 559.4,185.2 559.8,185.4 560.2,185.5 560.6,185.6 561.0,185.2 561.4,185.4 561.8,185.5 562.2,185.3 562.6,185.5 563.0,185.4 563.4,185.5 563.8,185.4 564.2,185.5 564.6,185.4 565.0,185.5 565.4,185.5 565.8,185.6 566.2,185.5 566.6,185.6 567.0,185.3 567.4,185.5 567.8,185.6 568.2,185.5 568.6,185.2 569.0,185.5 569.4,185.4 569.8,185.6 570.2,185.5 570.6,185.6 571.0,185.4 571.4,185.6 571.8,185.2 572.2,185.4 572.6,185.5 573.0,185.3 573.4,185.6 573.8,185.5 574.2,185.6 574.6,185.4 575.0,185.4 575.4,185.6 575.8,185.4 576.2,185.6 576.6,185.6 577.0,185.4 577.4,185.5 577.8,185.6 578.2,185.5 578.6,185.5 579.0,185.5 579.4,185.5 579.8,185.6 580.2,185.6 580.6,185.4 581.0,185.4 581.4,185.5 581.8,185.6 582.2,185.4 582.5,185.6 582.9,185.6 583.3,185.3 583.7,185.6 584.1,185.6 584.5,185.5 584.9,185.3 585.3,185.5 585.7,185.5 586.1,185.6 586.5,185.6 586.9,185.4 587.3,185.6 587.7,185.6 588.1,185.6 588.5,185.5 588.9,185.6 589.3,185.5 589.7,185.5 590.1,185.3 590.5,185.5 590.9,185.3 591.3,185.6 591.7,185.4 592.1,185.5 592.5,185.5 592.9,185.4 593.3,185.4 593.7,185.4" fill="none" stroke="#0000ff" stroke-width="1.5" stroke-linejoin="round" marker-start="url(#mcb)" marker-mid="url(#mcb)" marker-end="url(#mcb)"/>
</g>
<path d="M355.5,3.5 H594.5 M355.5,3.0 V187.0 M594.5,3.0 V186.5" stroke="#474747" stroke-width="1.2" fill="none"/>
<line x1="351.8" y1="186.50" x2="355.5" y2="186.50" stroke="#474747" stroke-width="1.2"/>
<text x="349.4" y="189.40" text-anchor="end" class="tk">0</text>
<line x1="353.2" y1="171.25" x2="355.5" y2="171.25" stroke="#474747" stroke-width="1.2"/>
<line x1="351.8" y1="156.00" x2="355.5" y2="156.00" stroke="#474747" stroke-width="1.2"/>
<text x="349.4" y="158.90" text-anchor="end" class="tk">200</text>
<line x1="353.2" y1="140.75" x2="355.5" y2="140.75" stroke="#474747" stroke-width="1.2"/>
<line x1="351.8" y1="125.50" x2="355.5" y2="125.50" stroke="#474747" stroke-width="1.2"/>
<text x="349.4" y="128.40" text-anchor="end" class="tk">400</text>
<line x1="353.2" y1="110.25" x2="355.5" y2="110.25" stroke="#474747" stroke-width="1.2"/>
<line x1="351.8" y1="95.00" x2="355.5" y2="95.00" stroke="#474747" stroke-width="1.2"/>
<text x="349.4" y="97.90" text-anchor="end" class="tk">600</text>
<line x1="353.2" y1="79.75" x2="355.5" y2="79.75" stroke="#474747" stroke-width="1.2"/>
<line x1="351.8" y1="64.50" x2="355.5" y2="64.50" stroke="#474747" stroke-width="1.2"/>
<text x="349.4" y="67.40" text-anchor="end" class="tk">800</text>
<line x1="353.2" y1="49.25" x2="355.5" y2="49.25" stroke="#474747" stroke-width="1.2"/>
<line x1="351.8" y1="34.00" x2="355.5" y2="34.00" stroke="#474747" stroke-width="1.2"/>
<text x="349.4" y="36.90" text-anchor="end" class="tk">1000</text>
<line x1="353.2" y1="18.75" x2="355.5" y2="18.75" stroke="#474747" stroke-width="1.2"/>
<line x1="351.8" y1="3.50" x2="355.5" y2="3.50" stroke="#474747" stroke-width="1.2"/>
<text x="349.4" y="6.40" text-anchor="end" class="tk">1200</text>
<line x1="355.50" y1="186.5" x2="355.50" y2="191.0" stroke="#474747" stroke-width="1.2"/>
<text x="355.50" y="199.3" text-anchor="middle" class="tk">0</text>
<line x1="375.42" y1="186.5" x2="375.42" y2="189.0" stroke="#474747" stroke-width="1.2"/>
<line x1="395.33" y1="186.5" x2="395.33" y2="191.0" stroke="#474747" stroke-width="1.2"/>
<text x="395.33" y="199.3" text-anchor="middle" class="tk">100</text>
<line x1="415.25" y1="186.5" x2="415.25" y2="189.0" stroke="#474747" stroke-width="1.2"/>
<line x1="435.17" y1="186.5" x2="435.17" y2="191.0" stroke="#474747" stroke-width="1.2"/>
<text x="435.17" y="199.3" text-anchor="middle" class="tk">200</text>
<line x1="455.08" y1="186.5" x2="455.08" y2="189.0" stroke="#474747" stroke-width="1.2"/>
<line x1="475.00" y1="186.5" x2="475.00" y2="191.0" stroke="#474747" stroke-width="1.2"/>
<text x="475.00" y="199.3" text-anchor="middle" class="tk">300</text>
<line x1="494.92" y1="186.5" x2="494.92" y2="189.0" stroke="#474747" stroke-width="1.2"/>
<line x1="514.83" y1="186.5" x2="514.83" y2="191.0" stroke="#474747" stroke-width="1.2"/>
<text x="514.83" y="199.3" text-anchor="middle" class="tk">400</text>
<line x1="534.75" y1="186.5" x2="534.75" y2="189.0" stroke="#474747" stroke-width="1.2"/>
<line x1="554.67" y1="186.5" x2="554.67" y2="191.0" stroke="#474747" stroke-width="1.2"/>
<text x="554.67" y="199.3" text-anchor="middle" class="tk">500</text>
<line x1="574.58" y1="186.5" x2="574.58" y2="189.0" stroke="#474747" stroke-width="1.2"/>
<line x1="594.50" y1="186.5" x2="594.50" y2="191.0" stroke="#474747" stroke-width="1.2"/>
<text x="594.50" y="199.3" text-anchor="middle" class="tk">600</text>
<text x="454.40" y="217.2" class="at">Time (s)</text>
<text x="437.10" y="244.9" class="tt">(b) B1-B4</text>
<text transform="translate(325.30,95.2) rotate(-90)" text-anchor="middle" class="at">HHR (kW/m<tspan dy="-7.8" font-size="5.4">2</tspan><tspan dy="7.8">)</tspan></text>
<rect x="504.5" y="32.0" width="58.0" height="73.5" fill="#fff" stroke="#808080" stroke-width="1.1"/>
<polyline points="510.5,49.50 525.5,49.50 540.5,49.50" fill="none" stroke="#70ff70" stroke-width="1.1" marker-mid="url(#lsq)"/>
<text x="543.8" y="54.30" class="lg">B1</text>
<polyline points="510.5,65.70 525.5,65.70 540.5,65.70" fill="none" stroke="#008000" stroke-width="2.2" marker-mid="url(#ltri)"/>
<text x="543.8" y="70.50" class="lg">B2</text>
<polyline points="510.5,81.90 525.5,81.90 540.5,81.90" fill="none" stroke="#000000" stroke-width="2.2" marker-mid="url(#lcr)"/>
<text x="543.8" y="86.70" class="lg">B3</text>
<polyline points="510.5,98.10 525.5,98.10 540.5,98.10" fill="none" stroke="#0000ff" stroke-width="2.2" marker-mid="url(#lcb)"/>
<text x="543.8" y="102.90" class="lg">B4</text>
<style>
.tk{font-family:"Liberation Sans",sans-serif;font-size:9.1px;letter-spacing:-0.2px;fill:#000;}
.at{font-family:"Liberation Serif",serif;font-size:12.6px;fill:#000;}
.tt{font-family:"Liberation Serif",serif;font-size:15.7px;font-weight:bold;fill:#000;}
.lg{font-family:"Liberation Sans",sans-serif;font-size:13.3px;fill:#000;}
</style>
</svg></body></html>
